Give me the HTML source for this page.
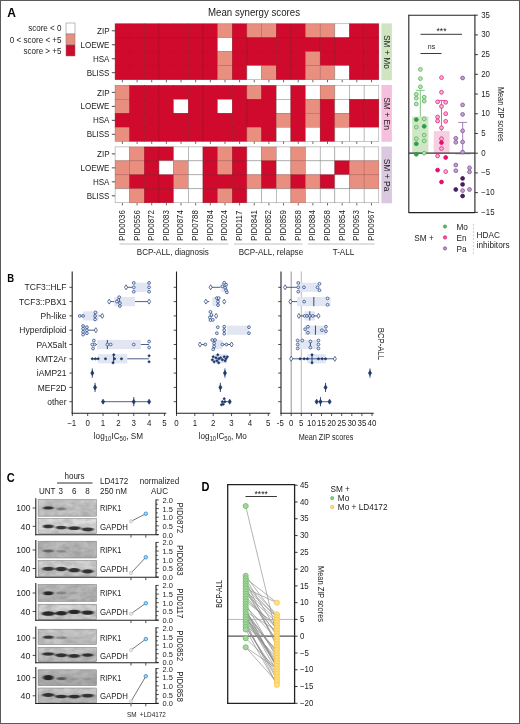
<!DOCTYPE html>
<html><head><meta charset="utf-8"><title>Figure</title>
<style>
html,body{margin:0;padding:0;background:#fff;}
body{width:520px;height:724px;overflow:hidden;font-family:"Liberation Sans",sans-serif;}
svg{display:block;will-change:transform;}
svg text{font-family:"Liberation Sans",sans-serif;}
</style></head><body>
<svg width="520" height="724" viewBox="0 0 520 724">
<defs><filter id="blur" x="-20%" y="-50%" width="140%" height="200%"><feGaussianBlur stdDeviation="1.0 0.7"/></filter><filter id="noise" x="0" y="0" width="100%" height="100%"><feTurbulence type="fractalNoise" baseFrequency="0.11 0.2" numOctaves="3" seed="4"/><feColorMatrix type="matrix" values="0 0 0 0 0.1  0 0 0 0 0.1  0 0 0 0 0.1  1.1 0 0 0 -0.32"/></filter></defs>
<rect x="0.00" y="0.00" width="520.00" height="724.00" fill="#fff" stroke="none" stroke-width="1" />
<text x="0.00" y="0.00" dy="0.355em" font-size="12" text-anchor="start" fill="#000" font-weight="bold" transform="translate(7.20,12.50) scale(1.0,1)" >A</text>
<text x="0.00" y="0.00" dy="0.355em" font-size="10.1" text-anchor="middle" fill="#1c1c1c" font-weight="normal" transform="translate(254.00,12.40) scale(0.96,1)" >Mean synergy scores</text>
<rect x="66.00" y="23.00" width="9.00" height="11.00" fill="#ffffff" stroke="#777" stroke-width="0.5" />
<text x="0.00" y="0.00" dy="0.355em" font-size="8.76" text-anchor="end" fill="#1c1c1c" font-weight="normal" transform="translate(61.50,28.30) scale(0.92,1)" >score &lt; 0</text>
<rect x="66.00" y="34.00" width="9.00" height="11.00" fill="#e98f80" stroke="#777" stroke-width="0.5" />
<text x="0.00" y="0.00" dy="0.355em" font-size="8.76" text-anchor="end" fill="#1c1c1c" font-weight="normal" transform="translate(61.50,39.80) scale(0.92,1)" >0 &lt; score &lt; +5</text>
<rect x="66.00" y="45.00" width="9.00" height="11.00" fill="#cf0a2c" stroke="#777" stroke-width="0.5" />
<text x="0.00" y="0.00" dy="0.355em" font-size="8.76" text-anchor="end" fill="#1c1c1c" font-weight="normal" transform="translate(61.50,51.30) scale(0.92,1)" >score &gt; +5</text>
<rect x="115.10" y="23.80" width="14.65" height="13.97" fill="#cf0a2c" stroke="#9c0e22" stroke-width="0.5" />
<rect x="129.75" y="23.80" width="14.65" height="13.97" fill="#cf0a2c" stroke="#9c0e22" stroke-width="0.5" />
<rect x="144.40" y="23.80" width="14.65" height="13.97" fill="#cf0a2c" stroke="#9c0e22" stroke-width="0.5" />
<rect x="159.05" y="23.80" width="14.65" height="13.97" fill="#cf0a2c" stroke="#9c0e22" stroke-width="0.5" />
<rect x="173.70" y="23.80" width="14.65" height="13.97" fill="#cf0a2c" stroke="#9c0e22" stroke-width="0.5" />
<rect x="188.35" y="23.80" width="14.65" height="13.97" fill="#cf0a2c" stroke="#9c0e22" stroke-width="0.5" />
<rect x="203.00" y="23.80" width="14.65" height="13.97" fill="#cf0a2c" stroke="#9c0e22" stroke-width="0.5" />
<rect x="217.65" y="23.80" width="14.65" height="13.97" fill="#e98f80" stroke="#b06058" stroke-width="0.5" />
<rect x="232.30" y="23.80" width="14.65" height="13.97" fill="#cf0a2c" stroke="#9c0e22" stroke-width="0.5" />
<rect x="246.95" y="23.80" width="14.65" height="13.97" fill="#e98f80" stroke="#b06058" stroke-width="0.5" />
<rect x="261.60" y="23.80" width="14.65" height="13.97" fill="#e98f80" stroke="#b06058" stroke-width="0.5" />
<rect x="276.25" y="23.80" width="14.65" height="13.97" fill="#cf0a2c" stroke="#9c0e22" stroke-width="0.5" />
<rect x="290.90" y="23.80" width="14.65" height="13.97" fill="#cf0a2c" stroke="#9c0e22" stroke-width="0.5" />
<rect x="305.55" y="23.80" width="14.65" height="13.97" fill="#e98f80" stroke="#b06058" stroke-width="0.5" />
<rect x="320.20" y="23.80" width="14.65" height="13.97" fill="#e98f80" stroke="#b06058" stroke-width="0.5" />
<rect x="334.85" y="23.80" width="14.65" height="13.97" fill="#ffffff" stroke="#8c8c8c" stroke-width="0.5" />
<rect x="349.50" y="23.80" width="14.65" height="13.97" fill="#cf0a2c" stroke="#9c0e22" stroke-width="0.5" />
<rect x="364.15" y="23.80" width="14.65" height="13.97" fill="#cf0a2c" stroke="#9c0e22" stroke-width="0.5" />
<text x="0.00" y="0.00" dy="0.355em" font-size="8.76" text-anchor="end" fill="#1c1c1c" font-weight="normal" transform="translate(109.50,30.79) scale(0.92,1)" >ZIP</text>
<line x1="111.80" y1="30.79" x2="115.10" y2="30.79" stroke="#222" stroke-width="0.8" />
<rect x="115.10" y="37.77" width="14.65" height="13.97" fill="#cf0a2c" stroke="#9c0e22" stroke-width="0.5" />
<rect x="129.75" y="37.77" width="14.65" height="13.97" fill="#cf0a2c" stroke="#9c0e22" stroke-width="0.5" />
<rect x="144.40" y="37.77" width="14.65" height="13.97" fill="#cf0a2c" stroke="#9c0e22" stroke-width="0.5" />
<rect x="159.05" y="37.77" width="14.65" height="13.97" fill="#cf0a2c" stroke="#9c0e22" stroke-width="0.5" />
<rect x="173.70" y="37.77" width="14.65" height="13.97" fill="#cf0a2c" stroke="#9c0e22" stroke-width="0.5" />
<rect x="188.35" y="37.77" width="14.65" height="13.97" fill="#cf0a2c" stroke="#9c0e22" stroke-width="0.5" />
<rect x="203.00" y="37.77" width="14.65" height="13.97" fill="#cf0a2c" stroke="#9c0e22" stroke-width="0.5" />
<rect x="217.65" y="37.77" width="14.65" height="13.97" fill="#ffffff" stroke="#8c8c8c" stroke-width="0.5" />
<rect x="232.30" y="37.77" width="14.65" height="13.97" fill="#cf0a2c" stroke="#9c0e22" stroke-width="0.5" />
<rect x="246.95" y="37.77" width="14.65" height="13.97" fill="#cf0a2c" stroke="#9c0e22" stroke-width="0.5" />
<rect x="261.60" y="37.77" width="14.65" height="13.97" fill="#cf0a2c" stroke="#9c0e22" stroke-width="0.5" />
<rect x="276.25" y="37.77" width="14.65" height="13.97" fill="#cf0a2c" stroke="#9c0e22" stroke-width="0.5" />
<rect x="290.90" y="37.77" width="14.65" height="13.97" fill="#cf0a2c" stroke="#9c0e22" stroke-width="0.5" />
<rect x="305.55" y="37.77" width="14.65" height="13.97" fill="#cf0a2c" stroke="#9c0e22" stroke-width="0.5" />
<rect x="320.20" y="37.77" width="14.65" height="13.97" fill="#cf0a2c" stroke="#9c0e22" stroke-width="0.5" />
<rect x="334.85" y="37.77" width="14.65" height="13.97" fill="#cf0a2c" stroke="#9c0e22" stroke-width="0.5" />
<rect x="349.50" y="37.77" width="14.65" height="13.97" fill="#cf0a2c" stroke="#9c0e22" stroke-width="0.5" />
<rect x="364.15" y="37.77" width="14.65" height="13.97" fill="#cf0a2c" stroke="#9c0e22" stroke-width="0.5" />
<text x="0.00" y="0.00" dy="0.355em" font-size="8.76" text-anchor="end" fill="#1c1c1c" font-weight="normal" transform="translate(109.50,44.76) scale(0.92,1)" >LOEWE</text>
<line x1="111.80" y1="44.76" x2="115.10" y2="44.76" stroke="#222" stroke-width="0.8" />
<rect x="115.10" y="51.74" width="14.65" height="13.97" fill="#cf0a2c" stroke="#9c0e22" stroke-width="0.5" />
<rect x="129.75" y="51.74" width="14.65" height="13.97" fill="#cf0a2c" stroke="#9c0e22" stroke-width="0.5" />
<rect x="144.40" y="51.74" width="14.65" height="13.97" fill="#cf0a2c" stroke="#9c0e22" stroke-width="0.5" />
<rect x="159.05" y="51.74" width="14.65" height="13.97" fill="#cf0a2c" stroke="#9c0e22" stroke-width="0.5" />
<rect x="173.70" y="51.74" width="14.65" height="13.97" fill="#cf0a2c" stroke="#9c0e22" stroke-width="0.5" />
<rect x="188.35" y="51.74" width="14.65" height="13.97" fill="#cf0a2c" stroke="#9c0e22" stroke-width="0.5" />
<rect x="203.00" y="51.74" width="14.65" height="13.97" fill="#cf0a2c" stroke="#9c0e22" stroke-width="0.5" />
<rect x="217.65" y="51.74" width="14.65" height="13.97" fill="#e98f80" stroke="#b06058" stroke-width="0.5" />
<rect x="232.30" y="51.74" width="14.65" height="13.97" fill="#cf0a2c" stroke="#9c0e22" stroke-width="0.5" />
<rect x="246.95" y="51.74" width="14.65" height="13.97" fill="#cf0a2c" stroke="#9c0e22" stroke-width="0.5" />
<rect x="261.60" y="51.74" width="14.65" height="13.97" fill="#cf0a2c" stroke="#9c0e22" stroke-width="0.5" />
<rect x="276.25" y="51.74" width="14.65" height="13.97" fill="#cf0a2c" stroke="#9c0e22" stroke-width="0.5" />
<rect x="290.90" y="51.74" width="14.65" height="13.97" fill="#cf0a2c" stroke="#9c0e22" stroke-width="0.5" />
<rect x="305.55" y="51.74" width="14.65" height="13.97" fill="#e98f80" stroke="#b06058" stroke-width="0.5" />
<rect x="320.20" y="51.74" width="14.65" height="13.97" fill="#cf0a2c" stroke="#9c0e22" stroke-width="0.5" />
<rect x="334.85" y="51.74" width="14.65" height="13.97" fill="#cf0a2c" stroke="#9c0e22" stroke-width="0.5" />
<rect x="349.50" y="51.74" width="14.65" height="13.97" fill="#cf0a2c" stroke="#9c0e22" stroke-width="0.5" />
<rect x="364.15" y="51.74" width="14.65" height="13.97" fill="#cf0a2c" stroke="#9c0e22" stroke-width="0.5" />
<text x="0.00" y="0.00" dy="0.355em" font-size="8.76" text-anchor="end" fill="#1c1c1c" font-weight="normal" transform="translate(109.50,58.73) scale(0.92,1)" >HSA</text>
<line x1="111.80" y1="58.73" x2="115.10" y2="58.73" stroke="#222" stroke-width="0.8" />
<rect x="115.10" y="65.71" width="14.65" height="13.97" fill="#cf0a2c" stroke="#9c0e22" stroke-width="0.5" />
<rect x="129.75" y="65.71" width="14.65" height="13.97" fill="#cf0a2c" stroke="#9c0e22" stroke-width="0.5" />
<rect x="144.40" y="65.71" width="14.65" height="13.97" fill="#cf0a2c" stroke="#9c0e22" stroke-width="0.5" />
<rect x="159.05" y="65.71" width="14.65" height="13.97" fill="#cf0a2c" stroke="#9c0e22" stroke-width="0.5" />
<rect x="173.70" y="65.71" width="14.65" height="13.97" fill="#cf0a2c" stroke="#9c0e22" stroke-width="0.5" />
<rect x="188.35" y="65.71" width="14.65" height="13.97" fill="#cf0a2c" stroke="#9c0e22" stroke-width="0.5" />
<rect x="203.00" y="65.71" width="14.65" height="13.97" fill="#cf0a2c" stroke="#9c0e22" stroke-width="0.5" />
<rect x="217.65" y="65.71" width="14.65" height="13.97" fill="#e98f80" stroke="#b06058" stroke-width="0.5" />
<rect x="232.30" y="65.71" width="14.65" height="13.97" fill="#cf0a2c" stroke="#9c0e22" stroke-width="0.5" />
<rect x="246.95" y="65.71" width="14.65" height="13.97" fill="#ffffff" stroke="#8c8c8c" stroke-width="0.5" />
<rect x="261.60" y="65.71" width="14.65" height="13.97" fill="#e98f80" stroke="#b06058" stroke-width="0.5" />
<rect x="276.25" y="65.71" width="14.65" height="13.97" fill="#cf0a2c" stroke="#9c0e22" stroke-width="0.5" />
<rect x="290.90" y="65.71" width="14.65" height="13.97" fill="#cf0a2c" stroke="#9c0e22" stroke-width="0.5" />
<rect x="305.55" y="65.71" width="14.65" height="13.97" fill="#e98f80" stroke="#b06058" stroke-width="0.5" />
<rect x="320.20" y="65.71" width="14.65" height="13.97" fill="#e98f80" stroke="#b06058" stroke-width="0.5" />
<rect x="334.85" y="65.71" width="14.65" height="13.97" fill="#ffffff" stroke="#8c8c8c" stroke-width="0.5" />
<rect x="349.50" y="65.71" width="14.65" height="13.97" fill="#cf0a2c" stroke="#9c0e22" stroke-width="0.5" />
<rect x="364.15" y="65.71" width="14.65" height="13.97" fill="#cf0a2c" stroke="#9c0e22" stroke-width="0.5" />
<text x="0.00" y="0.00" dy="0.355em" font-size="8.76" text-anchor="end" fill="#1c1c1c" font-weight="normal" transform="translate(109.50,72.70) scale(0.92,1)" >BLISS</text>
<line x1="111.80" y1="72.70" x2="115.10" y2="72.70" stroke="#222" stroke-width="0.8" />
<line x1="122.42" y1="79.98" x2="122.42" y2="82.28" stroke="#222" stroke-width="0.7" />
<line x1="137.07" y1="79.98" x2="137.07" y2="82.28" stroke="#222" stroke-width="0.7" />
<line x1="151.72" y1="79.98" x2="151.72" y2="82.28" stroke="#222" stroke-width="0.7" />
<line x1="166.38" y1="79.98" x2="166.38" y2="82.28" stroke="#222" stroke-width="0.7" />
<line x1="181.02" y1="79.98" x2="181.02" y2="82.28" stroke="#222" stroke-width="0.7" />
<line x1="195.68" y1="79.98" x2="195.68" y2="82.28" stroke="#222" stroke-width="0.7" />
<line x1="210.32" y1="79.98" x2="210.32" y2="82.28" stroke="#222" stroke-width="0.7" />
<line x1="224.97" y1="79.98" x2="224.97" y2="82.28" stroke="#222" stroke-width="0.7" />
<line x1="239.62" y1="79.98" x2="239.62" y2="82.28" stroke="#222" stroke-width="0.7" />
<line x1="254.28" y1="79.98" x2="254.28" y2="82.28" stroke="#222" stroke-width="0.7" />
<line x1="268.93" y1="79.98" x2="268.93" y2="82.28" stroke="#222" stroke-width="0.7" />
<line x1="283.57" y1="79.98" x2="283.57" y2="82.28" stroke="#222" stroke-width="0.7" />
<line x1="298.23" y1="79.98" x2="298.23" y2="82.28" stroke="#222" stroke-width="0.7" />
<line x1="312.88" y1="79.98" x2="312.88" y2="82.28" stroke="#222" stroke-width="0.7" />
<line x1="327.52" y1="79.98" x2="327.52" y2="82.28" stroke="#222" stroke-width="0.7" />
<line x1="342.18" y1="79.98" x2="342.18" y2="82.28" stroke="#222" stroke-width="0.7" />
<line x1="356.82" y1="79.98" x2="356.82" y2="82.28" stroke="#222" stroke-width="0.7" />
<line x1="371.48" y1="79.98" x2="371.48" y2="82.28" stroke="#222" stroke-width="0.7" />
<rect x="381.40" y="23.40" width="10.50" height="56.78" fill="#cfe5bf" stroke="none" stroke-width="1" />
<text x="0.00" y="0.00" dy="0.355em" font-size="9.4" text-anchor="middle" fill="#1c1c1c" font-weight="normal" transform="translate(386.90,51.94) rotate(90) scale(0.9,1)" >SM + Mo</text>
<rect x="115.10" y="85.40" width="14.65" height="13.97" fill="#e98f80" stroke="#b06058" stroke-width="0.5" />
<rect x="129.75" y="85.40" width="14.65" height="13.97" fill="#cf0a2c" stroke="#9c0e22" stroke-width="0.5" />
<rect x="144.40" y="85.40" width="14.65" height="13.97" fill="#cf0a2c" stroke="#9c0e22" stroke-width="0.5" />
<rect x="159.05" y="85.40" width="14.65" height="13.97" fill="#cf0a2c" stroke="#9c0e22" stroke-width="0.5" />
<rect x="173.70" y="85.40" width="14.65" height="13.97" fill="#cf0a2c" stroke="#9c0e22" stroke-width="0.5" />
<rect x="188.35" y="85.40" width="14.65" height="13.97" fill="#cf0a2c" stroke="#9c0e22" stroke-width="0.5" />
<rect x="203.00" y="85.40" width="14.65" height="13.97" fill="#cf0a2c" stroke="#9c0e22" stroke-width="0.5" />
<rect x="217.65" y="85.40" width="14.65" height="13.97" fill="#cf0a2c" stroke="#9c0e22" stroke-width="0.5" />
<rect x="232.30" y="85.40" width="14.65" height="13.97" fill="#cf0a2c" stroke="#9c0e22" stroke-width="0.5" />
<rect x="246.95" y="85.40" width="14.65" height="13.97" fill="#e98f80" stroke="#b06058" stroke-width="0.5" />
<rect x="261.60" y="85.40" width="14.65" height="13.97" fill="#cf0a2c" stroke="#9c0e22" stroke-width="0.5" />
<rect x="276.25" y="85.40" width="14.65" height="13.97" fill="#ffffff" stroke="#8c8c8c" stroke-width="0.5" />
<rect x="290.90" y="85.40" width="14.65" height="13.97" fill="#cf0a2c" stroke="#9c0e22" stroke-width="0.5" />
<rect x="305.55" y="85.40" width="14.65" height="13.97" fill="#ffffff" stroke="#8c8c8c" stroke-width="0.5" />
<rect x="320.20" y="85.40" width="14.65" height="13.97" fill="#e98f80" stroke="#b06058" stroke-width="0.5" />
<rect x="334.85" y="85.40" width="14.65" height="13.97" fill="#ffffff" stroke="#8c8c8c" stroke-width="0.5" />
<rect x="349.50" y="85.40" width="14.65" height="13.97" fill="#ffffff" stroke="#8c8c8c" stroke-width="0.5" />
<rect x="364.15" y="85.40" width="14.65" height="13.97" fill="#ffffff" stroke="#8c8c8c" stroke-width="0.5" />
<text x="0.00" y="0.00" dy="0.355em" font-size="8.76" text-anchor="end" fill="#1c1c1c" font-weight="normal" transform="translate(109.50,92.39) scale(0.92,1)" >ZIP</text>
<line x1="111.80" y1="92.39" x2="115.10" y2="92.39" stroke="#222" stroke-width="0.8" />
<rect x="115.10" y="99.37" width="14.65" height="13.97" fill="#e98f80" stroke="#b06058" stroke-width="0.5" />
<rect x="129.75" y="99.37" width="14.65" height="13.97" fill="#cf0a2c" stroke="#9c0e22" stroke-width="0.5" />
<rect x="144.40" y="99.37" width="14.65" height="13.97" fill="#cf0a2c" stroke="#9c0e22" stroke-width="0.5" />
<rect x="159.05" y="99.37" width="14.65" height="13.97" fill="#cf0a2c" stroke="#9c0e22" stroke-width="0.5" />
<rect x="173.70" y="99.37" width="14.65" height="13.97" fill="#ffffff" stroke="#8c8c8c" stroke-width="0.5" />
<rect x="188.35" y="99.37" width="14.65" height="13.97" fill="#cf0a2c" stroke="#9c0e22" stroke-width="0.5" />
<rect x="203.00" y="99.37" width="14.65" height="13.97" fill="#cf0a2c" stroke="#9c0e22" stroke-width="0.5" />
<rect x="217.65" y="99.37" width="14.65" height="13.97" fill="#ffffff" stroke="#8c8c8c" stroke-width="0.5" />
<rect x="232.30" y="99.37" width="14.65" height="13.97" fill="#cf0a2c" stroke="#9c0e22" stroke-width="0.5" />
<rect x="246.95" y="99.37" width="14.65" height="13.97" fill="#cf0a2c" stroke="#9c0e22" stroke-width="0.5" />
<rect x="261.60" y="99.37" width="14.65" height="13.97" fill="#cf0a2c" stroke="#9c0e22" stroke-width="0.5" />
<rect x="276.25" y="99.37" width="14.65" height="13.97" fill="#ffffff" stroke="#8c8c8c" stroke-width="0.5" />
<rect x="290.90" y="99.37" width="14.65" height="13.97" fill="#cf0a2c" stroke="#9c0e22" stroke-width="0.5" />
<rect x="305.55" y="99.37" width="14.65" height="13.97" fill="#e98f80" stroke="#b06058" stroke-width="0.5" />
<rect x="320.20" y="99.37" width="14.65" height="13.97" fill="#cf0a2c" stroke="#9c0e22" stroke-width="0.5" />
<rect x="334.85" y="99.37" width="14.65" height="13.97" fill="#ffffff" stroke="#8c8c8c" stroke-width="0.5" />
<rect x="349.50" y="99.37" width="14.65" height="13.97" fill="#cf0a2c" stroke="#9c0e22" stroke-width="0.5" />
<rect x="364.15" y="99.37" width="14.65" height="13.97" fill="#cf0a2c" stroke="#9c0e22" stroke-width="0.5" />
<text x="0.00" y="0.00" dy="0.355em" font-size="8.76" text-anchor="end" fill="#1c1c1c" font-weight="normal" transform="translate(109.50,106.36) scale(0.92,1)" >LOEWE</text>
<line x1="111.80" y1="106.36" x2="115.10" y2="106.36" stroke="#222" stroke-width="0.8" />
<rect x="115.10" y="113.34" width="14.65" height="13.97" fill="#cf0a2c" stroke="#9c0e22" stroke-width="0.5" />
<rect x="129.75" y="113.34" width="14.65" height="13.97" fill="#cf0a2c" stroke="#9c0e22" stroke-width="0.5" />
<rect x="144.40" y="113.34" width="14.65" height="13.97" fill="#cf0a2c" stroke="#9c0e22" stroke-width="0.5" />
<rect x="159.05" y="113.34" width="14.65" height="13.97" fill="#cf0a2c" stroke="#9c0e22" stroke-width="0.5" />
<rect x="173.70" y="113.34" width="14.65" height="13.97" fill="#cf0a2c" stroke="#9c0e22" stroke-width="0.5" />
<rect x="188.35" y="113.34" width="14.65" height="13.97" fill="#cf0a2c" stroke="#9c0e22" stroke-width="0.5" />
<rect x="203.00" y="113.34" width="14.65" height="13.97" fill="#cf0a2c" stroke="#9c0e22" stroke-width="0.5" />
<rect x="217.65" y="113.34" width="14.65" height="13.97" fill="#cf0a2c" stroke="#9c0e22" stroke-width="0.5" />
<rect x="232.30" y="113.34" width="14.65" height="13.97" fill="#cf0a2c" stroke="#9c0e22" stroke-width="0.5" />
<rect x="246.95" y="113.34" width="14.65" height="13.97" fill="#cf0a2c" stroke="#9c0e22" stroke-width="0.5" />
<rect x="261.60" y="113.34" width="14.65" height="13.97" fill="#cf0a2c" stroke="#9c0e22" stroke-width="0.5" />
<rect x="276.25" y="113.34" width="14.65" height="13.97" fill="#e98f80" stroke="#b06058" stroke-width="0.5" />
<rect x="290.90" y="113.34" width="14.65" height="13.97" fill="#cf0a2c" stroke="#9c0e22" stroke-width="0.5" />
<rect x="305.55" y="113.34" width="14.65" height="13.97" fill="#e98f80" stroke="#b06058" stroke-width="0.5" />
<rect x="320.20" y="113.34" width="14.65" height="13.97" fill="#cf0a2c" stroke="#9c0e22" stroke-width="0.5" />
<rect x="334.85" y="113.34" width="14.65" height="13.97" fill="#e98f80" stroke="#b06058" stroke-width="0.5" />
<rect x="349.50" y="113.34" width="14.65" height="13.97" fill="#cf0a2c" stroke="#9c0e22" stroke-width="0.5" />
<rect x="364.15" y="113.34" width="14.65" height="13.97" fill="#cf0a2c" stroke="#9c0e22" stroke-width="0.5" />
<text x="0.00" y="0.00" dy="0.355em" font-size="8.76" text-anchor="end" fill="#1c1c1c" font-weight="normal" transform="translate(109.50,120.33) scale(0.92,1)" >HSA</text>
<line x1="111.80" y1="120.33" x2="115.10" y2="120.33" stroke="#222" stroke-width="0.8" />
<rect x="115.10" y="127.31" width="14.65" height="13.97" fill="#e98f80" stroke="#b06058" stroke-width="0.5" />
<rect x="129.75" y="127.31" width="14.65" height="13.97" fill="#cf0a2c" stroke="#9c0e22" stroke-width="0.5" />
<rect x="144.40" y="127.31" width="14.65" height="13.97" fill="#cf0a2c" stroke="#9c0e22" stroke-width="0.5" />
<rect x="159.05" y="127.31" width="14.65" height="13.97" fill="#cf0a2c" stroke="#9c0e22" stroke-width="0.5" />
<rect x="173.70" y="127.31" width="14.65" height="13.97" fill="#cf0a2c" stroke="#9c0e22" stroke-width="0.5" />
<rect x="188.35" y="127.31" width="14.65" height="13.97" fill="#cf0a2c" stroke="#9c0e22" stroke-width="0.5" />
<rect x="203.00" y="127.31" width="14.65" height="13.97" fill="#cf0a2c" stroke="#9c0e22" stroke-width="0.5" />
<rect x="217.65" y="127.31" width="14.65" height="13.97" fill="#cf0a2c" stroke="#9c0e22" stroke-width="0.5" />
<rect x="232.30" y="127.31" width="14.65" height="13.97" fill="#cf0a2c" stroke="#9c0e22" stroke-width="0.5" />
<rect x="246.95" y="127.31" width="14.65" height="13.97" fill="#e98f80" stroke="#b06058" stroke-width="0.5" />
<rect x="261.60" y="127.31" width="14.65" height="13.97" fill="#cf0a2c" stroke="#9c0e22" stroke-width="0.5" />
<rect x="276.25" y="127.31" width="14.65" height="13.97" fill="#ffffff" stroke="#8c8c8c" stroke-width="0.5" />
<rect x="290.90" y="127.31" width="14.65" height="13.97" fill="#cf0a2c" stroke="#9c0e22" stroke-width="0.5" />
<rect x="305.55" y="127.31" width="14.65" height="13.97" fill="#ffffff" stroke="#8c8c8c" stroke-width="0.5" />
<rect x="320.20" y="127.31" width="14.65" height="13.97" fill="#cf0a2c" stroke="#9c0e22" stroke-width="0.5" />
<rect x="334.85" y="127.31" width="14.65" height="13.97" fill="#ffffff" stroke="#8c8c8c" stroke-width="0.5" />
<rect x="349.50" y="127.31" width="14.65" height="13.97" fill="#ffffff" stroke="#8c8c8c" stroke-width="0.5" />
<rect x="364.15" y="127.31" width="14.65" height="13.97" fill="#ffffff" stroke="#8c8c8c" stroke-width="0.5" />
<text x="0.00" y="0.00" dy="0.355em" font-size="8.76" text-anchor="end" fill="#1c1c1c" font-weight="normal" transform="translate(109.50,134.30) scale(0.92,1)" >BLISS</text>
<line x1="111.80" y1="134.30" x2="115.10" y2="134.30" stroke="#222" stroke-width="0.8" />
<line x1="122.42" y1="141.58" x2="122.42" y2="143.88" stroke="#222" stroke-width="0.7" />
<line x1="137.07" y1="141.58" x2="137.07" y2="143.88" stroke="#222" stroke-width="0.7" />
<line x1="151.72" y1="141.58" x2="151.72" y2="143.88" stroke="#222" stroke-width="0.7" />
<line x1="166.38" y1="141.58" x2="166.38" y2="143.88" stroke="#222" stroke-width="0.7" />
<line x1="181.02" y1="141.58" x2="181.02" y2="143.88" stroke="#222" stroke-width="0.7" />
<line x1="195.68" y1="141.58" x2="195.68" y2="143.88" stroke="#222" stroke-width="0.7" />
<line x1="210.32" y1="141.58" x2="210.32" y2="143.88" stroke="#222" stroke-width="0.7" />
<line x1="224.97" y1="141.58" x2="224.97" y2="143.88" stroke="#222" stroke-width="0.7" />
<line x1="239.62" y1="141.58" x2="239.62" y2="143.88" stroke="#222" stroke-width="0.7" />
<line x1="254.28" y1="141.58" x2="254.28" y2="143.88" stroke="#222" stroke-width="0.7" />
<line x1="268.93" y1="141.58" x2="268.93" y2="143.88" stroke="#222" stroke-width="0.7" />
<line x1="283.57" y1="141.58" x2="283.57" y2="143.88" stroke="#222" stroke-width="0.7" />
<line x1="298.23" y1="141.58" x2="298.23" y2="143.88" stroke="#222" stroke-width="0.7" />
<line x1="312.88" y1="141.58" x2="312.88" y2="143.88" stroke="#222" stroke-width="0.7" />
<line x1="327.52" y1="141.58" x2="327.52" y2="143.88" stroke="#222" stroke-width="0.7" />
<line x1="342.18" y1="141.58" x2="342.18" y2="143.88" stroke="#222" stroke-width="0.7" />
<line x1="356.82" y1="141.58" x2="356.82" y2="143.88" stroke="#222" stroke-width="0.7" />
<line x1="371.48" y1="141.58" x2="371.48" y2="143.88" stroke="#222" stroke-width="0.7" />
<rect x="381.40" y="85.00" width="10.50" height="56.78" fill="#f6bfdd" stroke="none" stroke-width="1" />
<text x="0.00" y="0.00" dy="0.355em" font-size="9.4" text-anchor="middle" fill="#1c1c1c" font-weight="normal" transform="translate(386.90,113.54) rotate(90) scale(0.9,1)" >SM + En</text>
<rect x="115.10" y="146.90" width="14.65" height="13.97" fill="#ffffff" stroke="#8c8c8c" stroke-width="0.5" />
<rect x="129.75" y="146.90" width="14.65" height="13.97" fill="#e98f80" stroke="#b06058" stroke-width="0.5" />
<rect x="144.40" y="146.90" width="14.65" height="13.97" fill="#cf0a2c" stroke="#9c0e22" stroke-width="0.5" />
<rect x="159.05" y="146.90" width="14.65" height="13.97" fill="#cf0a2c" stroke="#9c0e22" stroke-width="0.5" />
<rect x="173.70" y="146.90" width="14.65" height="13.97" fill="#ffffff" stroke="#8c8c8c" stroke-width="0.5" />
<rect x="188.35" y="146.90" width="14.65" height="13.97" fill="#ffffff" stroke="#8c8c8c" stroke-width="0.5" />
<rect x="203.00" y="146.90" width="14.65" height="13.97" fill="#cf0a2c" stroke="#9c0e22" stroke-width="0.5" />
<rect x="217.65" y="146.90" width="14.65" height="13.97" fill="#e98f80" stroke="#b06058" stroke-width="0.5" />
<rect x="232.30" y="146.90" width="14.65" height="13.97" fill="#cf0a2c" stroke="#9c0e22" stroke-width="0.5" />
<rect x="246.95" y="146.90" width="14.65" height="13.97" fill="#ffffff" stroke="#8c8c8c" stroke-width="0.5" />
<rect x="261.60" y="146.90" width="14.65" height="13.97" fill="#e98f80" stroke="#b06058" stroke-width="0.5" />
<rect x="276.25" y="146.90" width="14.65" height="13.97" fill="#ffffff" stroke="#8c8c8c" stroke-width="0.5" />
<rect x="290.90" y="146.90" width="14.65" height="13.97" fill="#e98f80" stroke="#b06058" stroke-width="0.5" />
<rect x="305.55" y="146.90" width="14.65" height="13.97" fill="#ffffff" stroke="#8c8c8c" stroke-width="0.5" />
<rect x="320.20" y="146.90" width="14.65" height="13.97" fill="#ffffff" stroke="#8c8c8c" stroke-width="0.5" />
<rect x="334.85" y="146.90" width="14.65" height="13.97" fill="#ffffff" stroke="#8c8c8c" stroke-width="0.5" />
<rect x="349.50" y="146.90" width="14.65" height="13.97" fill="#ffffff" stroke="#8c8c8c" stroke-width="0.5" />
<rect x="364.15" y="146.90" width="14.65" height="13.97" fill="#ffffff" stroke="#8c8c8c" stroke-width="0.5" />
<text x="0.00" y="0.00" dy="0.355em" font-size="8.76" text-anchor="end" fill="#1c1c1c" font-weight="normal" transform="translate(109.50,153.89) scale(0.92,1)" >ZIP</text>
<line x1="111.80" y1="153.89" x2="115.10" y2="153.89" stroke="#222" stroke-width="0.8" />
<rect x="115.10" y="160.87" width="14.65" height="13.97" fill="#e98f80" stroke="#b06058" stroke-width="0.5" />
<rect x="129.75" y="160.87" width="14.65" height="13.97" fill="#e98f80" stroke="#b06058" stroke-width="0.5" />
<rect x="144.40" y="160.87" width="14.65" height="13.97" fill="#cf0a2c" stroke="#9c0e22" stroke-width="0.5" />
<rect x="159.05" y="160.87" width="14.65" height="13.97" fill="#ffffff" stroke="#8c8c8c" stroke-width="0.5" />
<rect x="173.70" y="160.87" width="14.65" height="13.97" fill="#e98f80" stroke="#b06058" stroke-width="0.5" />
<rect x="188.35" y="160.87" width="14.65" height="13.97" fill="#ffffff" stroke="#8c8c8c" stroke-width="0.5" />
<rect x="203.00" y="160.87" width="14.65" height="13.97" fill="#cf0a2c" stroke="#9c0e22" stroke-width="0.5" />
<rect x="217.65" y="160.87" width="14.65" height="13.97" fill="#e98f80" stroke="#b06058" stroke-width="0.5" />
<rect x="232.30" y="160.87" width="14.65" height="13.97" fill="#cf0a2c" stroke="#9c0e22" stroke-width="0.5" />
<rect x="246.95" y="160.87" width="14.65" height="13.97" fill="#ffffff" stroke="#8c8c8c" stroke-width="0.5" />
<rect x="261.60" y="160.87" width="14.65" height="13.97" fill="#cf0a2c" stroke="#9c0e22" stroke-width="0.5" />
<rect x="276.25" y="160.87" width="14.65" height="13.97" fill="#ffffff" stroke="#8c8c8c" stroke-width="0.5" />
<rect x="290.90" y="160.87" width="14.65" height="13.97" fill="#e98f80" stroke="#b06058" stroke-width="0.5" />
<rect x="305.55" y="160.87" width="14.65" height="13.97" fill="#ffffff" stroke="#8c8c8c" stroke-width="0.5" />
<rect x="320.20" y="160.87" width="14.65" height="13.97" fill="#ffffff" stroke="#8c8c8c" stroke-width="0.5" />
<rect x="334.85" y="160.87" width="14.65" height="13.97" fill="#cf0a2c" stroke="#9c0e22" stroke-width="0.5" />
<rect x="349.50" y="160.87" width="14.65" height="13.97" fill="#e98f80" stroke="#b06058" stroke-width="0.5" />
<rect x="364.15" y="160.87" width="14.65" height="13.97" fill="#e98f80" stroke="#b06058" stroke-width="0.5" />
<text x="0.00" y="0.00" dy="0.355em" font-size="8.76" text-anchor="end" fill="#1c1c1c" font-weight="normal" transform="translate(109.50,167.86) scale(0.92,1)" >LOEWE</text>
<line x1="111.80" y1="167.86" x2="115.10" y2="167.86" stroke="#222" stroke-width="0.8" />
<rect x="115.10" y="174.84" width="14.65" height="13.97" fill="#e98f80" stroke="#b06058" stroke-width="0.5" />
<rect x="129.75" y="174.84" width="14.65" height="13.97" fill="#cf0a2c" stroke="#9c0e22" stroke-width="0.5" />
<rect x="144.40" y="174.84" width="14.65" height="13.97" fill="#cf0a2c" stroke="#9c0e22" stroke-width="0.5" />
<rect x="159.05" y="174.84" width="14.65" height="13.97" fill="#cf0a2c" stroke="#9c0e22" stroke-width="0.5" />
<rect x="173.70" y="174.84" width="14.65" height="13.97" fill="#e98f80" stroke="#b06058" stroke-width="0.5" />
<rect x="188.35" y="174.84" width="14.65" height="13.97" fill="#ffffff" stroke="#8c8c8c" stroke-width="0.5" />
<rect x="203.00" y="174.84" width="14.65" height="13.97" fill="#cf0a2c" stroke="#9c0e22" stroke-width="0.5" />
<rect x="217.65" y="174.84" width="14.65" height="13.97" fill="#cf0a2c" stroke="#9c0e22" stroke-width="0.5" />
<rect x="232.30" y="174.84" width="14.65" height="13.97" fill="#cf0a2c" stroke="#9c0e22" stroke-width="0.5" />
<rect x="246.95" y="174.84" width="14.65" height="13.97" fill="#e98f80" stroke="#b06058" stroke-width="0.5" />
<rect x="261.60" y="174.84" width="14.65" height="13.97" fill="#cf0a2c" stroke="#9c0e22" stroke-width="0.5" />
<rect x="276.25" y="174.84" width="14.65" height="13.97" fill="#e98f80" stroke="#b06058" stroke-width="0.5" />
<rect x="290.90" y="174.84" width="14.65" height="13.97" fill="#cf0a2c" stroke="#9c0e22" stroke-width="0.5" />
<rect x="305.55" y="174.84" width="14.65" height="13.97" fill="#e98f80" stroke="#b06058" stroke-width="0.5" />
<rect x="320.20" y="174.84" width="14.65" height="13.97" fill="#cf0a2c" stroke="#9c0e22" stroke-width="0.5" />
<rect x="334.85" y="174.84" width="14.65" height="13.97" fill="#ffffff" stroke="#8c8c8c" stroke-width="0.5" />
<rect x="349.50" y="174.84" width="14.65" height="13.97" fill="#e98f80" stroke="#b06058" stroke-width="0.5" />
<rect x="364.15" y="174.84" width="14.65" height="13.97" fill="#e98f80" stroke="#b06058" stroke-width="0.5" />
<text x="0.00" y="0.00" dy="0.355em" font-size="8.76" text-anchor="end" fill="#1c1c1c" font-weight="normal" transform="translate(109.50,181.83) scale(0.92,1)" >HSA</text>
<line x1="111.80" y1="181.83" x2="115.10" y2="181.83" stroke="#222" stroke-width="0.8" />
<rect x="115.10" y="188.81" width="14.65" height="13.97" fill="#ffffff" stroke="#8c8c8c" stroke-width="0.5" />
<rect x="129.75" y="188.81" width="14.65" height="13.97" fill="#e98f80" stroke="#b06058" stroke-width="0.5" />
<rect x="144.40" y="188.81" width="14.65" height="13.97" fill="#cf0a2c" stroke="#9c0e22" stroke-width="0.5" />
<rect x="159.05" y="188.81" width="14.65" height="13.97" fill="#cf0a2c" stroke="#9c0e22" stroke-width="0.5" />
<rect x="173.70" y="188.81" width="14.65" height="13.97" fill="#ffffff" stroke="#8c8c8c" stroke-width="0.5" />
<rect x="188.35" y="188.81" width="14.65" height="13.97" fill="#ffffff" stroke="#8c8c8c" stroke-width="0.5" />
<rect x="203.00" y="188.81" width="14.65" height="13.97" fill="#cf0a2c" stroke="#9c0e22" stroke-width="0.5" />
<rect x="217.65" y="188.81" width="14.65" height="13.97" fill="#e98f80" stroke="#b06058" stroke-width="0.5" />
<rect x="232.30" y="188.81" width="14.65" height="13.97" fill="#cf0a2c" stroke="#9c0e22" stroke-width="0.5" />
<rect x="246.95" y="188.81" width="14.65" height="13.97" fill="#ffffff" stroke="#8c8c8c" stroke-width="0.5" />
<rect x="261.60" y="188.81" width="14.65" height="13.97" fill="#ffffff" stroke="#8c8c8c" stroke-width="0.5" />
<rect x="276.25" y="188.81" width="14.65" height="13.97" fill="#ffffff" stroke="#8c8c8c" stroke-width="0.5" />
<rect x="290.90" y="188.81" width="14.65" height="13.97" fill="#e98f80" stroke="#b06058" stroke-width="0.5" />
<rect x="305.55" y="188.81" width="14.65" height="13.97" fill="#ffffff" stroke="#8c8c8c" stroke-width="0.5" />
<rect x="320.20" y="188.81" width="14.65" height="13.97" fill="#ffffff" stroke="#8c8c8c" stroke-width="0.5" />
<rect x="334.85" y="188.81" width="14.65" height="13.97" fill="#ffffff" stroke="#8c8c8c" stroke-width="0.5" />
<rect x="349.50" y="188.81" width="14.65" height="13.97" fill="#ffffff" stroke="#8c8c8c" stroke-width="0.5" />
<rect x="364.15" y="188.81" width="14.65" height="13.97" fill="#ffffff" stroke="#8c8c8c" stroke-width="0.5" />
<text x="0.00" y="0.00" dy="0.355em" font-size="8.76" text-anchor="end" fill="#1c1c1c" font-weight="normal" transform="translate(109.50,195.80) scale(0.92,1)" >BLISS</text>
<line x1="111.80" y1="195.80" x2="115.10" y2="195.80" stroke="#222" stroke-width="0.8" />
<line x1="122.42" y1="203.08" x2="122.42" y2="205.38" stroke="#222" stroke-width="0.7" />
<line x1="137.07" y1="203.08" x2="137.07" y2="205.38" stroke="#222" stroke-width="0.7" />
<line x1="151.72" y1="203.08" x2="151.72" y2="205.38" stroke="#222" stroke-width="0.7" />
<line x1="166.38" y1="203.08" x2="166.38" y2="205.38" stroke="#222" stroke-width="0.7" />
<line x1="181.02" y1="203.08" x2="181.02" y2="205.38" stroke="#222" stroke-width="0.7" />
<line x1="195.68" y1="203.08" x2="195.68" y2="205.38" stroke="#222" stroke-width="0.7" />
<line x1="210.32" y1="203.08" x2="210.32" y2="205.38" stroke="#222" stroke-width="0.7" />
<line x1="224.97" y1="203.08" x2="224.97" y2="205.38" stroke="#222" stroke-width="0.7" />
<line x1="239.62" y1="203.08" x2="239.62" y2="205.38" stroke="#222" stroke-width="0.7" />
<line x1="254.28" y1="203.08" x2="254.28" y2="205.38" stroke="#222" stroke-width="0.7" />
<line x1="268.93" y1="203.08" x2="268.93" y2="205.38" stroke="#222" stroke-width="0.7" />
<line x1="283.57" y1="203.08" x2="283.57" y2="205.38" stroke="#222" stroke-width="0.7" />
<line x1="298.23" y1="203.08" x2="298.23" y2="205.38" stroke="#222" stroke-width="0.7" />
<line x1="312.88" y1="203.08" x2="312.88" y2="205.38" stroke="#222" stroke-width="0.7" />
<line x1="327.52" y1="203.08" x2="327.52" y2="205.38" stroke="#222" stroke-width="0.7" />
<line x1="342.18" y1="203.08" x2="342.18" y2="205.38" stroke="#222" stroke-width="0.7" />
<line x1="356.82" y1="203.08" x2="356.82" y2="205.38" stroke="#222" stroke-width="0.7" />
<line x1="371.48" y1="203.08" x2="371.48" y2="205.38" stroke="#222" stroke-width="0.7" />
<rect x="381.40" y="146.50" width="10.50" height="56.78" fill="#dac7e0" stroke="none" stroke-width="1" />
<text x="0.00" y="0.00" dy="0.355em" font-size="9.4" text-anchor="middle" fill="#1c1c1c" font-weight="normal" transform="translate(386.90,175.04) rotate(90) scale(0.9,1)" >SM + Pa</text>
<text x="0.00" y="0.00" dy="0.355em" font-size="8.65" text-anchor="start" fill="#1c1c1c" font-weight="normal" transform="translate(121.83,241.00) rotate(-90) scale(0.92,1)" >PID0036</text>
<text x="0.00" y="0.00" dy="0.355em" font-size="8.65" text-anchor="start" fill="#1c1c1c" font-weight="normal" transform="translate(136.47,241.00) rotate(-90) scale(0.92,1)" >PID0556</text>
<text x="0.00" y="0.00" dy="0.355em" font-size="8.65" text-anchor="start" fill="#1c1c1c" font-weight="normal" transform="translate(151.12,241.00) rotate(-90) scale(0.92,1)" >PID0872</text>
<text x="0.00" y="0.00" dy="0.355em" font-size="8.65" text-anchor="start" fill="#1c1c1c" font-weight="normal" transform="translate(165.78,241.00) rotate(-90) scale(0.92,1)" >PID0083</text>
<text x="0.00" y="0.00" dy="0.355em" font-size="8.65" text-anchor="start" fill="#1c1c1c" font-weight="normal" transform="translate(180.42,241.00) rotate(-90) scale(0.92,1)" >PID0874</text>
<text x="0.00" y="0.00" dy="0.355em" font-size="8.65" text-anchor="start" fill="#1c1c1c" font-weight="normal" transform="translate(195.08,241.00) rotate(-90) scale(0.92,1)" >PID0788</text>
<text x="0.00" y="0.00" dy="0.355em" font-size="8.65" text-anchor="start" fill="#1c1c1c" font-weight="normal" transform="translate(209.72,241.00) rotate(-90) scale(0.92,1)" >PID0784</text>
<text x="0.00" y="0.00" dy="0.355em" font-size="8.65" text-anchor="start" fill="#1c1c1c" font-weight="normal" transform="translate(224.38,241.00) rotate(-90) scale(0.92,1)" >PID0024</text>
<text x="0.00" y="0.00" dy="0.355em" font-size="8.65" text-anchor="start" fill="#1c1c1c" font-weight="normal" transform="translate(239.03,241.00) rotate(-90) scale(0.92,1)" >PID0117</text>
<text x="0.00" y="0.00" dy="0.355em" font-size="8.65" text-anchor="start" fill="#1c1c1c" font-weight="normal" transform="translate(253.68,241.00) rotate(-90) scale(0.92,1)" >PID0841</text>
<text x="0.00" y="0.00" dy="0.355em" font-size="8.65" text-anchor="start" fill="#1c1c1c" font-weight="normal" transform="translate(268.32,241.00) rotate(-90) scale(0.92,1)" >PID0852</text>
<text x="0.00" y="0.00" dy="0.355em" font-size="8.65" text-anchor="start" fill="#1c1c1c" font-weight="normal" transform="translate(282.97,241.00) rotate(-90) scale(0.92,1)" >PID0859</text>
<text x="0.00" y="0.00" dy="0.355em" font-size="8.65" text-anchor="start" fill="#1c1c1c" font-weight="normal" transform="translate(297.62,241.00) rotate(-90) scale(0.92,1)" >PID0858</text>
<text x="0.00" y="0.00" dy="0.355em" font-size="8.65" text-anchor="start" fill="#1c1c1c" font-weight="normal" transform="translate(312.27,241.00) rotate(-90) scale(0.92,1)" >PID0884</text>
<text x="0.00" y="0.00" dy="0.355em" font-size="8.65" text-anchor="start" fill="#1c1c1c" font-weight="normal" transform="translate(326.92,241.00) rotate(-90) scale(0.92,1)" >PID0958</text>
<text x="0.00" y="0.00" dy="0.355em" font-size="8.65" text-anchor="start" fill="#1c1c1c" font-weight="normal" transform="translate(341.57,241.00) rotate(-90) scale(0.92,1)" >PID0854</text>
<text x="0.00" y="0.00" dy="0.355em" font-size="8.65" text-anchor="start" fill="#1c1c1c" font-weight="normal" transform="translate(356.22,241.00) rotate(-90) scale(0.92,1)" >PID0953</text>
<text x="0.00" y="0.00" dy="0.355em" font-size="8.65" text-anchor="start" fill="#1c1c1c" font-weight="normal" transform="translate(370.88,241.00) rotate(-90) scale(0.92,1)" >PID0967</text>
<line x1="119.60" y1="244.00" x2="228.40" y2="244.00" stroke="#777" stroke-width="0.45" />
<text x="0.00" y="0.00" dy="0.355em" font-size="8.76" text-anchor="middle" fill="#1c1c1c" font-weight="normal" transform="translate(172.80,251.60) scale(0.92,1)" >BCP-ALL, diagnosis</text>
<line x1="233.90" y1="244.00" x2="302.60" y2="244.00" stroke="#777" stroke-width="0.45" />
<text x="0.00" y="0.00" dy="0.355em" font-size="8.76" text-anchor="middle" fill="#1c1c1c" font-weight="normal" transform="translate(270.90,251.60) scale(0.92,1)" >BCP-ALL, relapse</text>
<line x1="307.80" y1="244.00" x2="374.80" y2="244.00" stroke="#777" stroke-width="0.45" />
<text x="0.00" y="0.00" dy="0.355em" font-size="8.76" text-anchor="middle" fill="#1c1c1c" font-weight="normal" transform="translate(343.40,251.60) scale(0.92,1)" >T-ALL</text>
<rect x="412.20" y="116.52" width="16.20" height="36.68" fill="#cfe7c6" stroke="none" stroke-width="1" />
<rect x="433.70" y="131.11" width="15.90" height="22.09" fill="#f7cfe0" stroke="none" stroke-width="1" />
<rect x="455.40" y="153.20" width="15.00" height="1.60" fill="#e3d8e8" stroke="none" stroke-width="1" />
<line x1="420.30" y1="90.30" x2="420.30" y2="116.52" stroke="#5fb760" stroke-width="0.8" />
<line x1="415.90" y1="90.30" x2="424.70" y2="90.30" stroke="#5fb760" stroke-width="0.8" />
<line x1="441.50" y1="100.50" x2="441.50" y2="131.11" stroke="#e6308a" stroke-width="0.8" />
<line x1="437.10" y1="100.50" x2="445.90" y2="100.50" stroke="#e6308a" stroke-width="0.8" />
<line x1="462.70" y1="122.40" x2="462.70" y2="153.20" stroke="#8b5fa0" stroke-width="0.8" />
<line x1="458.30" y1="122.40" x2="467.10" y2="122.40" stroke="#8b5fa0" stroke-width="0.8" />
<line x1="408.80" y1="15.20" x2="474.90" y2="15.20" stroke="#222" stroke-width="1.1" />
<line x1="408.80" y1="14.70" x2="408.80" y2="213.10" stroke="#222" stroke-width="1.1" />
<line x1="408.80" y1="212.60" x2="474.90" y2="212.60" stroke="#222" stroke-width="1.1" />
<line x1="474.90" y1="14.70" x2="474.90" y2="213.10" stroke="#222" stroke-width="1.1" />
<line x1="408.80" y1="153.20" x2="474.90" y2="153.20" stroke="#333" stroke-width="1.2" />
<line x1="474.90" y1="212.36" x2="477.90" y2="212.36" stroke="#222" stroke-width="0.9" />
<text x="0.00" y="0.00" dy="0.355em" font-size="8.55" text-anchor="start" fill="#1c1c1c" font-weight="normal" transform="translate(481.20,211.86) scale(0.92,1)" >&#8722;15</text>
<line x1="474.90" y1="192.64" x2="477.90" y2="192.64" stroke="#222" stroke-width="0.9" />
<text x="0.00" y="0.00" dy="0.355em" font-size="8.55" text-anchor="start" fill="#1c1c1c" font-weight="normal" transform="translate(481.20,192.14) scale(0.92,1)" >&#8722;10</text>
<line x1="474.90" y1="172.92" x2="477.90" y2="172.92" stroke="#222" stroke-width="0.9" />
<text x="0.00" y="0.00" dy="0.355em" font-size="8.55" text-anchor="start" fill="#1c1c1c" font-weight="normal" transform="translate(481.20,172.42) scale(0.92,1)" >&#8722;5</text>
<line x1="474.90" y1="153.20" x2="477.90" y2="153.20" stroke="#222" stroke-width="0.9" />
<text x="0.00" y="0.00" dy="0.355em" font-size="8.55" text-anchor="start" fill="#1c1c1c" font-weight="normal" transform="translate(481.20,152.70) scale(0.92,1)" >0</text>
<line x1="474.90" y1="133.48" x2="477.90" y2="133.48" stroke="#222" stroke-width="0.9" />
<text x="0.00" y="0.00" dy="0.355em" font-size="8.55" text-anchor="start" fill="#1c1c1c" font-weight="normal" transform="translate(481.20,132.98) scale(0.92,1)" >5</text>
<line x1="474.90" y1="113.76" x2="477.90" y2="113.76" stroke="#222" stroke-width="0.9" />
<text x="0.00" y="0.00" dy="0.355em" font-size="8.55" text-anchor="start" fill="#1c1c1c" font-weight="normal" transform="translate(481.20,113.26) scale(0.92,1)" >10</text>
<line x1="474.90" y1="94.04" x2="477.90" y2="94.04" stroke="#222" stroke-width="0.9" />
<text x="0.00" y="0.00" dy="0.355em" font-size="8.55" text-anchor="start" fill="#1c1c1c" font-weight="normal" transform="translate(481.20,93.54) scale(0.92,1)" >15</text>
<line x1="474.90" y1="74.32" x2="477.90" y2="74.32" stroke="#222" stroke-width="0.9" />
<text x="0.00" y="0.00" dy="0.355em" font-size="8.55" text-anchor="start" fill="#1c1c1c" font-weight="normal" transform="translate(481.20,73.82) scale(0.92,1)" >20</text>
<line x1="474.90" y1="54.60" x2="477.90" y2="54.60" stroke="#222" stroke-width="0.9" />
<text x="0.00" y="0.00" dy="0.355em" font-size="8.55" text-anchor="start" fill="#1c1c1c" font-weight="normal" transform="translate(481.20,54.10) scale(0.92,1)" >25</text>
<line x1="474.90" y1="34.88" x2="477.90" y2="34.88" stroke="#222" stroke-width="0.9" />
<text x="0.00" y="0.00" dy="0.355em" font-size="8.55" text-anchor="start" fill="#1c1c1c" font-weight="normal" transform="translate(481.20,34.38) scale(0.92,1)" >30</text>
<line x1="474.90" y1="15.16" x2="477.90" y2="15.16" stroke="#222" stroke-width="0.9" />
<text x="0.00" y="0.00" dy="0.355em" font-size="8.55" text-anchor="start" fill="#1c1c1c" font-weight="normal" transform="translate(481.20,14.66) scale(0.92,1)" >35</text>
<text x="0.00" y="0.00" dy="0.355em" font-size="9.2" text-anchor="middle" fill="#1c1c1c" font-weight="normal" transform="translate(501.60,114.30) rotate(90) scale(0.785,1)" >Mean ZIP scores</text>
<line x1="420.50" y1="34.30" x2="462.00" y2="34.30" stroke="#222" stroke-width="0.9" />
<text x="0.00" y="0.00" dy="0.355em" font-size="9.49" text-anchor="middle" fill="#1c1c1c" font-weight="normal" transform="translate(441.50,30.60) scale(0.92,1)" >***</text>
<line x1="420.50" y1="53.50" x2="441.50" y2="53.50" stroke="#222" stroke-width="0.9" />
<text x="0.00" y="0.00" dy="0.355em" font-size="7.8" text-anchor="middle" fill="#1c1c1c" font-weight="normal" transform="translate(431.50,46.60) scale(0.9,1)" >ns</text>
<circle cx="420.40" cy="69.40" r="1.9" fill="#bfe3b8" stroke="#5fb760" stroke-width="0.9" />
<circle cx="420.40" cy="78.60" r="1.9" fill="#bfe3b8" stroke="#5fb760" stroke-width="0.9" />
<circle cx="420.40" cy="86.80" r="1.9" fill="#bfe3b8" stroke="#5fb760" stroke-width="0.9" />
<circle cx="416.30" cy="94.30" r="1.9" fill="#bfe3b8" stroke="#5fb760" stroke-width="0.9" />
<circle cx="416.30" cy="98.20" r="1.9" fill="#bfe3b8" stroke="#5fb760" stroke-width="0.9" />
<circle cx="424.20" cy="97.20" r="1.9" fill="#bfe3b8" stroke="#5fb760" stroke-width="0.9" />
<circle cx="424.20" cy="101.10" r="1.9" fill="#bfe3b8" stroke="#5fb760" stroke-width="0.9" />
<circle cx="416.30" cy="104.00" r="1.9" fill="#bfe3b8" stroke="#5fb760" stroke-width="0.9" />
<circle cx="416.30" cy="119.60" r="1.9" fill="#2f9e44" stroke="#2f9e44" stroke-width="0.9" />
<circle cx="424.20" cy="118.80" r="1.9" fill="#bfe3b8" stroke="#5fb760" stroke-width="0.9" />
<circle cx="416.30" cy="127.10" r="1.9" fill="#bfe3b8" stroke="#5fb760" stroke-width="0.9" />
<circle cx="424.20" cy="126.30" r="1.9" fill="#2f9e44" stroke="#2f9e44" stroke-width="0.9" />
<circle cx="424.20" cy="135.10" r="1.9" fill="#bfe3b8" stroke="#5fb760" stroke-width="0.9" />
<circle cx="416.30" cy="138.70" r="1.9" fill="#bfe3b8" stroke="#5fb760" stroke-width="0.9" />
<circle cx="424.20" cy="140.90" r="1.9" fill="#bfe3b8" stroke="#5fb760" stroke-width="0.9" />
<circle cx="416.30" cy="143.80" r="1.9" fill="#2f9e44" stroke="#2f9e44" stroke-width="0.9" />
<circle cx="416.30" cy="154.30" r="1.9" fill="#2f9e44" stroke="#2f9e44" stroke-width="0.9" />
<circle cx="424.20" cy="153.10" r="1.9" fill="#bfe3b8" stroke="#5fb760" stroke-width="0.9" />
<circle cx="441.50" cy="77.60" r="1.9" fill="#f9b5d3" stroke="#e6308a" stroke-width="0.9" />
<circle cx="441.50" cy="92.30" r="1.9" fill="#f9b5d3" stroke="#e6308a" stroke-width="0.9" />
<circle cx="437.60" cy="101.80" r="1.9" fill="#f9b5d3" stroke="#e6308a" stroke-width="0.9" />
<circle cx="445.70" cy="102.30" r="1.9" fill="#f9b5d3" stroke="#e6308a" stroke-width="0.9" />
<circle cx="441.50" cy="106.40" r="1.9" fill="#f9b5d3" stroke="#e6308a" stroke-width="0.9" />
<circle cx="445.70" cy="113.70" r="1.9" fill="#f9b5d3" stroke="#e6308a" stroke-width="0.9" />
<circle cx="437.60" cy="117.00" r="1.9" fill="#f9b5d3" stroke="#e6308a" stroke-width="0.9" />
<circle cx="437.60" cy="120.90" r="1.9" fill="#f9b5d3" stroke="#e6308a" stroke-width="0.9" />
<circle cx="445.70" cy="121.30" r="1.9" fill="#f9b5d3" stroke="#e6308a" stroke-width="0.9" />
<circle cx="441.50" cy="127.80" r="1.9" fill="#f9b5d3" stroke="#e6308a" stroke-width="0.9" />
<circle cx="441.50" cy="138.70" r="1.9" fill="#f9b5d3" stroke="#e6308a" stroke-width="0.9" />
<circle cx="441.50" cy="142.60" r="1.9" fill="#e2106e" stroke="#e2106e" stroke-width="0.9" />
<circle cx="441.50" cy="148.50" r="1.9" fill="#f9b5d3" stroke="#e6308a" stroke-width="0.9" />
<circle cx="437.60" cy="156.00" r="1.9" fill="#f9b5d3" stroke="#e6308a" stroke-width="0.9" />
<circle cx="445.70" cy="157.50" r="1.9" fill="#e2106e" stroke="#e2106e" stroke-width="0.9" />
<circle cx="437.60" cy="170.10" r="1.9" fill="#e2106e" stroke="#e2106e" stroke-width="0.9" />
<circle cx="445.70" cy="171.60" r="1.9" fill="#f9b5d3" stroke="#e6308a" stroke-width="0.9" />
<circle cx="441.50" cy="182.00" r="1.9" fill="#e2106e" stroke="#e2106e" stroke-width="0.9" />
<circle cx="462.60" cy="78.00" r="1.9" fill="#bfa3cb" stroke="#8b5fa0" stroke-width="0.9" />
<circle cx="462.60" cy="104.90" r="1.9" fill="#bfa3cb" stroke="#8b5fa0" stroke-width="0.9" />
<circle cx="462.60" cy="114.40" r="1.9" fill="#bfa3cb" stroke="#8b5fa0" stroke-width="0.9" />
<circle cx="462.60" cy="130.80" r="1.9" fill="#bfa3cb" stroke="#8b5fa0" stroke-width="0.9" />
<circle cx="455.80" cy="138.30" r="1.9" fill="#bfa3cb" stroke="#8b5fa0" stroke-width="0.9" />
<circle cx="455.80" cy="142.30" r="1.9" fill="#bfa3cb" stroke="#8b5fa0" stroke-width="0.9" />
<circle cx="462.60" cy="142.00" r="1.9" fill="#bfa3cb" stroke="#8b5fa0" stroke-width="0.9" />
<circle cx="462.60" cy="152.10" r="1.9" fill="#bfa3cb" stroke="#8b5fa0" stroke-width="0.9" />
<circle cx="455.80" cy="165.00" r="1.9" fill="#bfa3cb" stroke="#8b5fa0" stroke-width="0.9" />
<circle cx="455.80" cy="170.70" r="1.9" fill="#bfa3cb" stroke="#8b5fa0" stroke-width="0.9" />
<circle cx="469.50" cy="167.80" r="1.9" fill="#bfa3cb" stroke="#8b5fa0" stroke-width="0.9" />
<circle cx="469.50" cy="171.90" r="1.9" fill="#bfa3cb" stroke="#8b5fa0" stroke-width="0.9" />
<circle cx="462.60" cy="178.40" r="1.9" fill="#4b1d5a" stroke="#4b1d5a" stroke-width="0.9" />
<circle cx="462.60" cy="184.40" r="1.9" fill="#4b1d5a" stroke="#4b1d5a" stroke-width="0.9" />
<circle cx="455.80" cy="189.50" r="1.9" fill="#4b1d5a" stroke="#4b1d5a" stroke-width="0.9" />
<circle cx="462.60" cy="190.60" r="1.9" fill="#bfa3cb" stroke="#8b5fa0" stroke-width="0.9" />
<circle cx="469.50" cy="189.50" r="1.9" fill="#bfa3cb" stroke="#8b5fa0" stroke-width="0.9" />
<circle cx="462.60" cy="196.00" r="1.9" fill="#4b1d5a" stroke="#4b1d5a" stroke-width="0.9" />
<text x="0.00" y="0.00" dy="0.355em" font-size="8.97" text-anchor="start" fill="#1c1c1c" font-weight="normal" transform="translate(414.30,237.60) scale(0.92,1)" >SM +</text>
<circle cx="445.00" cy="226.50" r="1.6" fill="#5fb760" stroke="#3f9e48" stroke-width="0.8" />
<text x="0.00" y="0.00" dy="0.355em" font-size="8.97" text-anchor="start" fill="#1c1c1c" font-weight="normal" transform="translate(456.50,226.70) scale(0.92,1)" >Mo</text>
<circle cx="445.00" cy="237.45" r="1.6" fill="#f0609f" stroke="#e2106e" stroke-width="0.8" />
<text x="0.00" y="0.00" dy="0.355em" font-size="8.97" text-anchor="start" fill="#1c1c1c" font-weight="normal" transform="translate(456.50,237.65) scale(0.92,1)" >En</text>
<circle cx="445.00" cy="248.40" r="1.6" fill="#b89cc6" stroke="#7d4f92" stroke-width="0.8" />
<text x="0.00" y="0.00" dy="0.355em" font-size="8.97" text-anchor="start" fill="#1c1c1c" font-weight="normal" transform="translate(456.50,248.60) scale(0.92,1)" >Pa</text>
<line x1="473.40" y1="224.00" x2="473.40" y2="254.60" stroke="#aaa" stroke-width="0.6" stroke-dasharray="2,1.5"/>
<text x="0.00" y="0.00" dy="0.355em" font-size="8.97" text-anchor="start" fill="#1c1c1c" font-weight="normal" transform="translate(476.60,235.00) scale(0.92,1)" >HDAC</text>
<text x="0.00" y="0.00" dy="0.355em" font-size="8.97" text-anchor="start" fill="#1c1c1c" font-weight="normal" transform="translate(476.60,244.90) scale(0.92,1)" >inhibitors</text>
<text x="0.00" y="0.00" dy="0.355em" font-size="11.6" text-anchor="start" fill="#000" font-weight="bold" transform="translate(7.20,277.70) scale(0.82,1)" >B</text>
<text x="0.00" y="0.00" dy="0.355em" font-size="8.75" text-anchor="end" fill="#1c1c1c" font-weight="normal" transform="translate(66.50,287.30) scale(0.97,1)" >TCF3::HLF</text>
<text x="0.00" y="0.00" dy="0.355em" font-size="8.75" text-anchor="end" fill="#1c1c1c" font-weight="normal" transform="translate(66.50,301.60) scale(0.97,1)" >TCF3::PBX1</text>
<text x="0.00" y="0.00" dy="0.355em" font-size="8.75" text-anchor="end" fill="#1c1c1c" font-weight="normal" transform="translate(66.50,315.90) scale(0.97,1)" >Ph-like</text>
<text x="0.00" y="0.00" dy="0.355em" font-size="8.75" text-anchor="end" fill="#1c1c1c" font-weight="normal" transform="translate(66.50,330.20) scale(0.97,1)" >Hyperdiploid</text>
<text x="0.00" y="0.00" dy="0.355em" font-size="8.75" text-anchor="end" fill="#1c1c1c" font-weight="normal" transform="translate(66.50,344.50) scale(0.97,1)" >PAX5alt</text>
<text x="0.00" y="0.00" dy="0.355em" font-size="8.75" text-anchor="end" fill="#1c1c1c" font-weight="normal" transform="translate(66.50,358.80) scale(0.97,1)" >KMT2Ar</text>
<text x="0.00" y="0.00" dy="0.355em" font-size="8.75" text-anchor="end" fill="#1c1c1c" font-weight="normal" transform="translate(66.50,373.10) scale(0.97,1)" >iAMP21</text>
<text x="0.00" y="0.00" dy="0.355em" font-size="8.75" text-anchor="end" fill="#1c1c1c" font-weight="normal" transform="translate(66.50,387.40) scale(0.97,1)" >MEF2D</text>
<text x="0.00" y="0.00" dy="0.355em" font-size="8.75" text-anchor="end" fill="#1c1c1c" font-weight="normal" transform="translate(66.50,401.70) scale(0.97,1)" >other</text>
<line x1="291.20" y1="271.50" x2="291.20" y2="413.20" stroke="#888" stroke-width="0.9" />
<line x1="301.30" y1="271.50" x2="301.30" y2="413.20" stroke="#999" stroke-width="0.7" />
<rect x="133.75" y="282.70" width="15.35" height="9.20" fill="#e2e6f3" stroke="none" stroke-width="1" />
<line x1="126.08" y1="287.30" x2="133.75" y2="287.30" stroke="#1e3a6b" stroke-width="0.8" />
<circle cx="133.75" cy="282.90" r="1.4" fill="#e3ebfa" stroke="#2a4a86" stroke-width="0.75" />
<circle cx="133.75" cy="287.30" r="1.4" fill="#e3ebfa" stroke="#2a4a86" stroke-width="0.75" />
<circle cx="133.75" cy="291.70" r="1.4" fill="#e3ebfa" stroke="#2a4a86" stroke-width="0.75" />
<circle cx="149.10" cy="282.90" r="1.4" fill="#e3ebfa" stroke="#2a4a86" stroke-width="0.75" />
<circle cx="149.10" cy="287.30" r="1.4" fill="#e3ebfa" stroke="#2a4a86" stroke-width="0.75" />
<circle cx="149.10" cy="291.70" r="1.4" fill="#e3ebfa" stroke="#2a4a86" stroke-width="0.75" />
<path d="M124.53,287.30 L126.08,284.80 L127.62,287.30 L126.08,289.80 Z" fill="#fff" stroke="#1e3a6b" stroke-width="0.7"/>
<rect x="114.26" y="297.00" width="20.72" height="9.20" fill="#e2e6f3" stroke="none" stroke-width="1" />
<line x1="109.19" y1="301.60" x2="114.26" y2="301.60" stroke="#1e3a6b" stroke-width="0.8" />
<line x1="134.98" y1="301.60" x2="149.10" y2="301.60" stroke="#1e3a6b" stroke-width="0.8" />
<line x1="119.47" y1="297.00" x2="119.47" y2="306.20" stroke="#1e3a6b" stroke-width="0.9" />
<circle cx="119.17" cy="297.20" r="1.4" fill="#e3ebfa" stroke="#2a4a86" stroke-width="0.75" />
<circle cx="118.40" cy="300.10" r="1.4" fill="#e3ebfa" stroke="#2a4a86" stroke-width="0.75" />
<circle cx="119.94" cy="303.10" r="1.4" fill="#e3ebfa" stroke="#2a4a86" stroke-width="0.75" />
<circle cx="119.94" cy="306.00" r="1.4" fill="#e3ebfa" stroke="#2a4a86" stroke-width="0.75" />
<circle cx="116.87" cy="301.60" r="1.4" fill="#e3ebfa" stroke="#2a4a86" stroke-width="0.75" />
<path d="M107.64,301.60 L109.19,299.10 L110.74,301.60 L109.19,304.10 Z" fill="#fff" stroke="#1e3a6b" stroke-width="0.7"/>
<path d="M147.55,301.60 L149.10,299.10 L150.65,301.60 L149.10,304.10 Z" fill="#fff" stroke="#1e3a6b" stroke-width="0.7"/>
<rect x="83.09" y="311.30" width="15.66" height="9.20" fill="#e2e6f3" stroke="none" stroke-width="1" />
<line x1="79.72" y1="315.90" x2="83.09" y2="315.90" stroke="#1e3a6b" stroke-width="0.8" />
<line x1="98.75" y1="315.90" x2="102.28" y2="315.90" stroke="#1e3a6b" stroke-width="0.8" />
<line x1="95.07" y1="311.30" x2="95.07" y2="320.50" stroke="#1e3a6b" stroke-width="0.9" />
<circle cx="79.72" cy="315.90" r="1.4" fill="#e3ebfa" stroke="#2a4a86" stroke-width="0.75" />
<circle cx="83.09" cy="315.90" r="1.4" fill="#e3ebfa" stroke="#2a4a86" stroke-width="0.75" />
<circle cx="95.38" cy="312.40" r="1.4" fill="#e3ebfa" stroke="#2a4a86" stroke-width="0.75" />
<circle cx="95.07" cy="315.90" r="1.4" fill="#e3ebfa" stroke="#2a4a86" stroke-width="0.75" />
<circle cx="95.07" cy="319.40" r="1.4" fill="#e3ebfa" stroke="#2a4a86" stroke-width="0.75" />
<path d="M100.73,315.90 L102.28,313.40 L103.83,315.90 L102.28,318.40 Z" fill="#fff" stroke="#1e3a6b" stroke-width="0.7"/>
<rect x="83.09" y="325.60" width="4.61" height="9.20" fill="#e2e6f3" stroke="none" stroke-width="1" />
<line x1="87.70" y1="330.20" x2="95.84" y2="330.20" stroke="#1e3a6b" stroke-width="0.8" />
<circle cx="83.09" cy="326.00" r="1.4" fill="#e3ebfa" stroke="#2a4a86" stroke-width="0.75" />
<circle cx="83.09" cy="328.80" r="1.4" fill="#e3ebfa" stroke="#2a4a86" stroke-width="0.75" />
<circle cx="83.09" cy="331.80" r="1.4" fill="#e3ebfa" stroke="#2a4a86" stroke-width="0.75" />
<circle cx="83.09" cy="334.60" r="1.4" fill="#e3ebfa" stroke="#2a4a86" stroke-width="0.75" />
<circle cx="86.93" cy="327.20" r="1.4" fill="#e3ebfa" stroke="#2a4a86" stroke-width="0.75" />
<circle cx="86.93" cy="330.20" r="1.4" fill="#e3ebfa" stroke="#2a4a86" stroke-width="0.75" />
<circle cx="86.93" cy="333.20" r="1.4" fill="#e3ebfa" stroke="#2a4a86" stroke-width="0.75" />
<path d="M94.29,330.20 L95.84,327.70 L97.39,330.20 L95.84,332.70 Z" fill="#fff" stroke="#1e3a6b" stroke-width="0.7"/>
<rect x="96.91" y="339.90" width="43.90" height="9.20" fill="#e2e6f3" stroke="none" stroke-width="1" />
<line x1="92.31" y1="344.50" x2="96.91" y2="344.50" stroke="#1e3a6b" stroke-width="0.8" />
<line x1="140.81" y1="344.50" x2="149.10" y2="344.50" stroke="#1e3a6b" stroke-width="0.8" />
<line x1="107.35" y1="339.90" x2="107.35" y2="349.10" stroke="#1e3a6b" stroke-width="0.9" />
<circle cx="93.84" cy="340.50" r="1.4" fill="#e3ebfa" stroke="#2a4a86" stroke-width="0.75" />
<circle cx="94.61" cy="344.50" r="1.4" fill="#e3ebfa" stroke="#2a4a86" stroke-width="0.75" />
<circle cx="92.31" cy="344.50" r="1.4" fill="#e3ebfa" stroke="#2a4a86" stroke-width="0.75" />
<circle cx="93.07" cy="348.50" r="1.4" fill="#e3ebfa" stroke="#2a4a86" stroke-width="0.75" />
<circle cx="107.35" cy="344.50" r="1.4" fill="#e3ebfa" stroke="#2a4a86" stroke-width="0.75" />
<circle cx="110.72" cy="344.50" r="1.4" fill="#e3ebfa" stroke="#2a4a86" stroke-width="0.75" />
<circle cx="133.75" cy="344.50" r="1.4" fill="#e3ebfa" stroke="#2a4a86" stroke-width="0.75" />
<circle cx="149.10" cy="341.50" r="1.4" fill="#e3ebfa" stroke="#2a4a86" stroke-width="0.75" />
<circle cx="149.10" cy="347.50" r="1.4" fill="#e3ebfa" stroke="#2a4a86" stroke-width="0.75" />
<rect x="98.14" y="354.20" width="29.16" height="9.20" fill="#e2e6f3" stroke="none" stroke-width="1" />
<line x1="92.31" y1="358.80" x2="98.14" y2="358.80" stroke="#1e3a6b" stroke-width="0.8" />
<line x1="127.30" y1="358.80" x2="149.10" y2="358.80" stroke="#1e3a6b" stroke-width="0.8" />
<line x1="113.49" y1="354.20" x2="113.49" y2="363.40" stroke="#1e3a6b" stroke-width="0.9" />
<circle cx="92.31" cy="358.80" r="1.05" fill="#1e3a6b" stroke="#1e3a6b" stroke-width="0.75" />
<circle cx="95.38" cy="358.80" r="1.05" fill="#1e3a6b" stroke="#1e3a6b" stroke-width="0.75" />
<circle cx="98.14" cy="358.80" r="1.05" fill="#1e3a6b" stroke="#1e3a6b" stroke-width="0.75" />
<circle cx="105.51" cy="358.80" r="1.05" fill="#1e3a6b" stroke="#1e3a6b" stroke-width="0.75" />
<circle cx="113.80" cy="354.80" r="1.05" fill="#1e3a6b" stroke="#1e3a6b" stroke-width="0.75" />
<circle cx="114.56" cy="358.80" r="1.05" fill="#1e3a6b" stroke="#1e3a6b" stroke-width="0.75" />
<circle cx="113.03" cy="362.80" r="1.05" fill="#1e3a6b" stroke="#1e3a6b" stroke-width="0.75" />
<circle cx="121.47" cy="358.80" r="1.05" fill="#1e3a6b" stroke="#1e3a6b" stroke-width="0.75" />
<circle cx="149.10" cy="355.80" r="1.05" fill="#1e3a6b" stroke="#1e3a6b" stroke-width="0.75" />
<circle cx="149.10" cy="361.80" r="1.05" fill="#1e3a6b" stroke="#1e3a6b" stroke-width="0.75" />
<line x1="92.31" y1="368.50" x2="92.31" y2="377.70" stroke="#1e3a6b" stroke-width="0.9" />
<path d="M90.76,373.10 L92.31,370.60 L93.86,373.10 L92.31,375.60 Z" fill="#1e3a6b" stroke="#1e3a6b" stroke-width="0.7"/>
<line x1="95.07" y1="382.80" x2="95.07" y2="392.00" stroke="#1e3a6b" stroke-width="0.9" />
<path d="M93.52,387.40 L95.07,384.90 L96.62,387.40 L95.07,389.90 Z" fill="#1e3a6b" stroke="#1e3a6b" stroke-width="0.7"/>
<line x1="103.05" y1="401.70" x2="149.10" y2="401.70" stroke="#1e3a6b" stroke-width="0.8" />
<line x1="133.75" y1="397.10" x2="133.75" y2="406.30" stroke="#1e3a6b" stroke-width="0.9" />
<path d="M101.50,401.70 L103.05,399.20 L104.60,401.70 L103.05,404.20 Z" fill="#1e3a6b" stroke="#1e3a6b" stroke-width="0.7"/>
<path d="M132.20,401.70 L133.75,399.20 L135.30,401.70 L133.75,404.20 Z" fill="#1e3a6b" stroke="#1e3a6b" stroke-width="0.7"/>
<path d="M147.55,401.70 L149.10,399.20 L150.65,401.70 L149.10,404.20 Z" fill="#1e3a6b" stroke="#1e3a6b" stroke-width="0.7"/>
<rect x="221.46" y="282.70" width="6.06" height="9.20" fill="#e2e6f3" stroke="none" stroke-width="1" />
<line x1="210.63" y1="287.30" x2="220.54" y2="287.30" stroke="#1e3a6b" stroke-width="0.8" />
<circle cx="222.38" cy="286.30" r="1.4" fill="#e3ebfa" stroke="#2a4a86" stroke-width="0.75" />
<circle cx="224.21" cy="282.80" r="1.4" fill="#e3ebfa" stroke="#2a4a86" stroke-width="0.75" />
<circle cx="226.05" cy="284.80" r="1.4" fill="#e3ebfa" stroke="#2a4a86" stroke-width="0.75" />
<circle cx="225.13" cy="287.80" r="1.4" fill="#e3ebfa" stroke="#2a4a86" stroke-width="0.75" />
<circle cx="226.05" cy="290.30" r="1.4" fill="#e3ebfa" stroke="#2a4a86" stroke-width="0.75" />
<circle cx="226.96" cy="292.30" r="1.4" fill="#e3ebfa" stroke="#2a4a86" stroke-width="0.75" />
<path d="M209.08,287.30 L210.63,284.80 L212.18,287.30 L210.63,289.80 Z" fill="#fff" stroke="#1e3a6b" stroke-width="0.7"/>
<rect x="212.28" y="297.00" width="7.89" height="9.20" fill="#e2e6f3" stroke="none" stroke-width="1" />
<line x1="205.86" y1="301.60" x2="209.16" y2="301.60" stroke="#1e3a6b" stroke-width="0.8" />
<line x1="217.97" y1="297.00" x2="217.97" y2="306.20" stroke="#1e3a6b" stroke-width="0.9" />
<circle cx="216.87" cy="298.10" r="1.4" fill="#e3ebfa" stroke="#2a4a86" stroke-width="0.75" />
<circle cx="218.70" cy="298.10" r="1.4" fill="#e3ebfa" stroke="#2a4a86" stroke-width="0.75" />
<circle cx="217.97" cy="301.60" r="1.4" fill="#e3ebfa" stroke="#2a4a86" stroke-width="0.75" />
<circle cx="217.97" cy="305.10" r="1.4" fill="#e3ebfa" stroke="#2a4a86" stroke-width="0.75" />
<path d="M204.31,301.60 L205.86,299.10 L207.41,301.60 L205.86,304.10 Z" fill="#fff" stroke="#1e3a6b" stroke-width="0.7"/>
<path d="M222.66,301.60 L224.21,299.10 L225.76,301.60 L224.21,304.10 Z" fill="#fff" stroke="#1e3a6b" stroke-width="0.7"/>
<line x1="210.45" y1="315.90" x2="213.20" y2="315.90" stroke="#1e3a6b" stroke-width="0.8" />
<circle cx="210.45" cy="311.90" r="1.4" fill="#e3ebfa" stroke="#2a4a86" stroke-width="0.75" />
<circle cx="211.37" cy="314.90" r="1.4" fill="#e3ebfa" stroke="#2a4a86" stroke-width="0.75" />
<circle cx="209.90" cy="317.40" r="1.4" fill="#e3ebfa" stroke="#2a4a86" stroke-width="0.75" />
<circle cx="210.45" cy="320.10" r="1.4" fill="#e3ebfa" stroke="#2a4a86" stroke-width="0.75" />
<circle cx="212.83" cy="319.90" r="1.4" fill="#e3ebfa" stroke="#2a4a86" stroke-width="0.75" />
<path d="M214.59,315.90 L216.14,313.40 L217.69,315.90 L216.14,318.40 Z" fill="#fff" stroke="#1e3a6b" stroke-width="0.7"/>
<rect x="227.15" y="325.60" width="21.84" height="9.20" fill="#e2e6f3" stroke="none" stroke-width="1" />
<line x1="217.42" y1="330.20" x2="217.42" y2="330.20" stroke="#1e3a6b" stroke-width="0.8" />
<line x1="224.21" y1="325.60" x2="224.21" y2="334.80" stroke="#1e3a6b" stroke-width="0.9" />
<circle cx="217.79" cy="327.20" r="1.4" fill="#e3ebfa" stroke="#2a4a86" stroke-width="0.75" />
<circle cx="216.87" cy="333.20" r="1.4" fill="#e3ebfa" stroke="#2a4a86" stroke-width="0.75" />
<circle cx="224.21" cy="326.70" r="1.4" fill="#e3ebfa" stroke="#2a4a86" stroke-width="0.75" />
<circle cx="224.21" cy="330.20" r="1.4" fill="#e3ebfa" stroke="#2a4a86" stroke-width="0.75" />
<circle cx="224.21" cy="333.70" r="1.4" fill="#e3ebfa" stroke="#2a4a86" stroke-width="0.75" />
<circle cx="248.98" cy="327.20" r="1.4" fill="#e3ebfa" stroke="#2a4a86" stroke-width="0.75" />
<circle cx="248.98" cy="333.20" r="1.4" fill="#e3ebfa" stroke="#2a4a86" stroke-width="0.75" />
<rect x="212.28" y="339.90" width="10.09" height="9.20" fill="#e2e6f3" stroke="none" stroke-width="1" />
<line x1="199.99" y1="344.50" x2="205.86" y2="344.50" stroke="#1e3a6b" stroke-width="0.8" />
<line x1="222.38" y1="344.50" x2="231.55" y2="344.50" stroke="#1e3a6b" stroke-width="0.8" />
<line x1="214.12" y1="339.90" x2="214.12" y2="349.10" stroke="#1e3a6b" stroke-width="0.9" />
<circle cx="205.31" cy="344.50" r="1.4" fill="#e3ebfa" stroke="#2a4a86" stroke-width="0.75" />
<circle cx="212.28" cy="340.00" r="1.4" fill="#e3ebfa" stroke="#2a4a86" stroke-width="0.75" />
<circle cx="215.03" cy="340.00" r="1.4" fill="#e3ebfa" stroke="#2a4a86" stroke-width="0.75" />
<circle cx="214.12" cy="343.50" r="1.4" fill="#e3ebfa" stroke="#2a4a86" stroke-width="0.75" />
<circle cx="214.12" cy="346.50" r="1.4" fill="#e3ebfa" stroke="#2a4a86" stroke-width="0.75" />
<circle cx="213.20" cy="349.30" r="1.4" fill="#e3ebfa" stroke="#2a4a86" stroke-width="0.75" />
<circle cx="222.38" cy="344.50" r="1.4" fill="#e3ebfa" stroke="#2a4a86" stroke-width="0.75" />
<circle cx="226.41" cy="344.50" r="1.4" fill="#e3ebfa" stroke="#2a4a86" stroke-width="0.75" />
<path d="M198.44,344.50 L199.99,342.00 L201.54,344.50 L199.99,347.00 Z" fill="#fff" stroke="#1e3a6b" stroke-width="0.7"/>
<path d="M230.00,344.50 L231.55,342.00 L233.10,344.50 L231.55,347.00 Z" fill="#fff" stroke="#1e3a6b" stroke-width="0.7"/>
<rect x="213.20" y="354.20" width="13.76" height="9.20" fill="#e2e6f3" stroke="none" stroke-width="1" />
<circle cx="212.28" cy="359.80" r="1.05" fill="#1e3a6b" stroke="#1e3a6b" stroke-width="0.75" />
<circle cx="213.20" cy="356.80" r="1.05" fill="#1e3a6b" stroke="#1e3a6b" stroke-width="0.75" />
<circle cx="214.12" cy="361.80" r="1.05" fill="#1e3a6b" stroke="#1e3a6b" stroke-width="0.75" />
<circle cx="215.95" cy="357.80" r="1.05" fill="#1e3a6b" stroke="#1e3a6b" stroke-width="0.75" />
<circle cx="216.87" cy="360.80" r="1.05" fill="#1e3a6b" stroke="#1e3a6b" stroke-width="0.75" />
<circle cx="217.79" cy="354.80" r="1.05" fill="#1e3a6b" stroke="#1e3a6b" stroke-width="0.75" />
<circle cx="218.70" cy="358.80" r="1.05" fill="#1e3a6b" stroke="#1e3a6b" stroke-width="0.75" />
<circle cx="218.70" cy="362.80" r="1.05" fill="#1e3a6b" stroke="#1e3a6b" stroke-width="0.75" />
<circle cx="220.54" cy="357.80" r="1.05" fill="#1e3a6b" stroke="#1e3a6b" stroke-width="0.75" />
<circle cx="222.38" cy="359.80" r="1.05" fill="#1e3a6b" stroke="#1e3a6b" stroke-width="0.75" />
<circle cx="224.21" cy="356.80" r="1.05" fill="#1e3a6b" stroke="#1e3a6b" stroke-width="0.75" />
<circle cx="225.13" cy="360.80" r="1.05" fill="#1e3a6b" stroke="#1e3a6b" stroke-width="0.75" />
<circle cx="226.05" cy="358.80" r="1.05" fill="#1e3a6b" stroke="#1e3a6b" stroke-width="0.75" />
<circle cx="227.33" cy="356.80" r="1.05" fill="#1e3a6b" stroke="#1e3a6b" stroke-width="0.75" />
<line x1="224.94" y1="368.50" x2="224.94" y2="377.70" stroke="#1e3a6b" stroke-width="0.9" />
<path d="M223.39,373.10 L224.94,370.60 L226.49,373.10 L224.94,375.60 Z" fill="#1e3a6b" stroke="#1e3a6b" stroke-width="0.7"/>
<line x1="220.36" y1="382.80" x2="220.36" y2="392.00" stroke="#1e3a6b" stroke-width="0.9" />
<path d="M218.81,387.40 L220.36,384.90 L221.91,387.40 L220.36,389.90 Z" fill="#1e3a6b" stroke="#1e3a6b" stroke-width="0.7"/>
<line x1="221.46" y1="401.70" x2="229.72" y2="401.70" stroke="#1e3a6b" stroke-width="0.8" />
<circle cx="221.46" cy="404.70" r="1.05" fill="#1e3a6b" stroke="#1e3a6b" stroke-width="0.75" />
<circle cx="222.38" cy="401.70" r="1.05" fill="#1e3a6b" stroke="#1e3a6b" stroke-width="0.75" />
<circle cx="223.29" cy="404.20" r="1.05" fill="#1e3a6b" stroke="#1e3a6b" stroke-width="0.75" />
<circle cx="224.21" cy="398.70" r="1.05" fill="#1e3a6b" stroke="#1e3a6b" stroke-width="0.75" />
<circle cx="224.94" cy="401.70" r="1.05" fill="#1e3a6b" stroke="#1e3a6b" stroke-width="0.75" />
<path d="M228.16,401.70 L229.72,399.20 L231.27,401.70 L229.72,404.20 Z" fill="#1e3a6b" stroke="#1e3a6b" stroke-width="0.7"/>
<rect x="298.27" y="282.70" width="21.21" height="9.20" fill="#e2e6f3" stroke="none" stroke-width="1" />
<line x1="285.14" y1="287.30" x2="298.27" y2="287.30" stroke="#1e3a6b" stroke-width="0.8" />
<circle cx="298.27" cy="282.90" r="1.4" fill="#e3ebfa" stroke="#2a4a86" stroke-width="0.75" />
<circle cx="298.27" cy="287.30" r="1.4" fill="#e3ebfa" stroke="#2a4a86" stroke-width="0.75" />
<circle cx="298.27" cy="291.70" r="1.4" fill="#e3ebfa" stroke="#2a4a86" stroke-width="0.75" />
<circle cx="303.93" cy="287.30" r="1.4" fill="#e3ebfa" stroke="#2a4a86" stroke-width="0.75" />
<circle cx="317.46" cy="287.30" r="1.4" fill="#e3ebfa" stroke="#2a4a86" stroke-width="0.75" />
<circle cx="319.48" cy="283.80" r="1.4" fill="#e3ebfa" stroke="#2a4a86" stroke-width="0.75" />
<circle cx="319.48" cy="290.30" r="1.4" fill="#e3ebfa" stroke="#2a4a86" stroke-width="0.75" />
<path d="M283.59,287.30 L285.14,284.80 L286.69,287.30 L285.14,289.80 Z" fill="#fff" stroke="#1e3a6b" stroke-width="0.7"/>
<rect x="297.26" y="297.00" width="33.33" height="9.20" fill="#e2e6f3" stroke="none" stroke-width="1" />
<line x1="290.39" y1="301.60" x2="297.26" y2="301.60" stroke="#1e3a6b" stroke-width="0.8" />
<line x1="313.82" y1="297.00" x2="313.82" y2="306.20" stroke="#1e3a6b" stroke-width="0.9" />
<circle cx="304.13" cy="301.60" r="1.4" fill="#e3ebfa" stroke="#2a4a86" stroke-width="0.75" />
<circle cx="327.56" cy="298.40" r="1.4" fill="#e3ebfa" stroke="#2a4a86" stroke-width="0.75" />
<circle cx="327.56" cy="304.80" r="1.4" fill="#e3ebfa" stroke="#2a4a86" stroke-width="0.75" />
<path d="M288.84,301.60 L290.39,299.10 L291.94,301.60 L290.39,304.10 Z" fill="#fff" stroke="#1e3a6b" stroke-width="0.7"/>
<rect x="304.53" y="311.30" width="10.50" height="9.20" fill="#e2e6f3" stroke="none" stroke-width="1" />
<line x1="298.88" y1="315.90" x2="318.47" y2="315.90" stroke="#1e3a6b" stroke-width="0.8" />
<line x1="309.78" y1="311.30" x2="309.78" y2="320.50" stroke="#1e3a6b" stroke-width="0.9" />
<circle cx="304.53" cy="315.90" r="1.4" fill="#e3ebfa" stroke="#2a4a86" stroke-width="0.75" />
<circle cx="306.96" cy="315.90" r="1.4" fill="#e3ebfa" stroke="#2a4a86" stroke-width="0.75" />
<circle cx="309.78" cy="315.90" r="1.4" fill="#e3ebfa" stroke="#2a4a86" stroke-width="0.75" />
<circle cx="312.81" cy="315.90" r="1.4" fill="#e3ebfa" stroke="#2a4a86" stroke-width="0.75" />
<path d="M297.33,315.90 L298.88,313.40 L300.43,315.90 L298.88,318.40 Z" fill="#fff" stroke="#1e3a6b" stroke-width="0.7"/>
<path d="M316.92,315.90 L318.47,313.40 L320.02,315.90 L318.47,318.40 Z" fill="#fff" stroke="#1e3a6b" stroke-width="0.7"/>
<rect x="304.94" y="325.60" width="21.61" height="9.20" fill="#e2e6f3" stroke="none" stroke-width="1" />
<line x1="315.44" y1="325.60" x2="315.44" y2="334.80" stroke="#1e3a6b" stroke-width="0.9" />
<circle cx="305.14" cy="329.20" r="1.4" fill="#e3ebfa" stroke="#2a4a86" stroke-width="0.75" />
<circle cx="307.97" cy="326.70" r="1.4" fill="#e3ebfa" stroke="#2a4a86" stroke-width="0.75" />
<circle cx="307.97" cy="332.70" r="1.4" fill="#e3ebfa" stroke="#2a4a86" stroke-width="0.75" />
<circle cx="321.90" cy="330.20" r="1.4" fill="#e3ebfa" stroke="#2a4a86" stroke-width="0.75" />
<circle cx="325.94" cy="326.70" r="1.4" fill="#e3ebfa" stroke="#2a4a86" stroke-width="0.75" />
<circle cx="325.94" cy="331.20" r="1.4" fill="#e3ebfa" stroke="#2a4a86" stroke-width="0.75" />
<rect x="297.66" y="339.90" width="21.41" height="9.20" fill="#e2e6f3" stroke="none" stroke-width="1" />
<line x1="310.39" y1="339.90" x2="310.39" y2="349.10" stroke="#1e3a6b" stroke-width="0.9" />
<circle cx="297.66" cy="340.50" r="1.4" fill="#e3ebfa" stroke="#2a4a86" stroke-width="0.75" />
<circle cx="297.66" cy="344.50" r="1.4" fill="#e3ebfa" stroke="#2a4a86" stroke-width="0.75" />
<circle cx="297.66" cy="348.50" r="1.4" fill="#e3ebfa" stroke="#2a4a86" stroke-width="0.75" />
<circle cx="302.31" cy="340.50" r="1.4" fill="#e3ebfa" stroke="#2a4a86" stroke-width="0.75" />
<circle cx="310.39" cy="341.50" r="1.4" fill="#e3ebfa" stroke="#2a4a86" stroke-width="0.75" />
<circle cx="310.39" cy="347.50" r="1.4" fill="#e3ebfa" stroke="#2a4a86" stroke-width="0.75" />
<circle cx="318.47" cy="340.50" r="1.4" fill="#e3ebfa" stroke="#2a4a86" stroke-width="0.75" />
<circle cx="318.47" cy="344.50" r="1.4" fill="#e3ebfa" stroke="#2a4a86" stroke-width="0.75" />
<circle cx="318.47" cy="348.50" r="1.4" fill="#e3ebfa" stroke="#2a4a86" stroke-width="0.75" />
<rect x="307.36" y="354.20" width="18.18" height="9.20" fill="#e2e6f3" stroke="none" stroke-width="1" />
<line x1="291.20" y1="358.80" x2="334.83" y2="358.80" stroke="#1e3a6b" stroke-width="0.8" />
<line x1="312.01" y1="354.20" x2="312.01" y2="363.40" stroke="#1e3a6b" stroke-width="0.9" />
<circle cx="300.09" cy="358.80" r="1.05" fill="#1e3a6b" stroke="#1e3a6b" stroke-width="0.75" />
<circle cx="304.13" cy="358.80" r="1.05" fill="#1e3a6b" stroke="#1e3a6b" stroke-width="0.75" />
<circle cx="307.36" cy="358.80" r="1.05" fill="#1e3a6b" stroke="#1e3a6b" stroke-width="0.75" />
<circle cx="312.01" cy="354.80" r="1.05" fill="#1e3a6b" stroke="#1e3a6b" stroke-width="0.75" />
<circle cx="312.01" cy="362.80" r="1.05" fill="#1e3a6b" stroke="#1e3a6b" stroke-width="0.75" />
<circle cx="318.47" cy="358.80" r="1.05" fill="#1e3a6b" stroke="#1e3a6b" stroke-width="0.75" />
<circle cx="322.11" cy="358.80" r="1.05" fill="#1e3a6b" stroke="#1e3a6b" stroke-width="0.75" />
<circle cx="325.54" cy="358.80" r="1.05" fill="#1e3a6b" stroke="#1e3a6b" stroke-width="0.75" />
<path d="M289.65,358.80 L291.20,356.30 L292.75,358.80 L291.20,361.30 Z" fill="#fff" stroke="#1e3a6b" stroke-width="0.7"/>
<path d="M333.28,358.80 L334.83,356.30 L336.38,358.80 L334.83,361.30 Z" fill="#fff" stroke="#1e3a6b" stroke-width="0.7"/>
<line x1="369.98" y1="368.50" x2="369.98" y2="377.70" stroke="#1e3a6b" stroke-width="0.9" />
<path d="M368.43,373.10 L369.98,370.60 L371.53,373.10 L369.98,375.60 Z" fill="#1e3a6b" stroke="#1e3a6b" stroke-width="0.7"/>
<line x1="325.54" y1="382.80" x2="325.54" y2="392.00" stroke="#1e3a6b" stroke-width="0.9" />
<path d="M323.99,387.40 L325.54,384.90 L327.09,387.40 L325.54,389.90 Z" fill="#1e3a6b" stroke="#1e3a6b" stroke-width="0.7"/>
<line x1="316.65" y1="401.70" x2="329.58" y2="401.70" stroke="#1e3a6b" stroke-width="0.8" />
<line x1="320.49" y1="397.10" x2="320.49" y2="406.30" stroke="#1e3a6b" stroke-width="0.9" />
<path d="M315.10,401.70 L316.65,399.20 L318.20,401.70 L316.65,404.20 Z" fill="#1e3a6b" stroke="#1e3a6b" stroke-width="0.7"/>
<path d="M318.94,401.70 L320.49,399.20 L322.04,401.70 L320.49,404.20 Z" fill="#1e3a6b" stroke="#1e3a6b" stroke-width="0.7"/>
<path d="M328.03,401.70 L329.58,399.20 L331.13,401.70 L329.58,404.20 Z" fill="#1e3a6b" stroke="#1e3a6b" stroke-width="0.7"/>
<line x1="72.20" y1="271.50" x2="72.20" y2="413.70" stroke="#222" stroke-width="1.1" />
<line x1="71.70" y1="413.20" x2="166.30" y2="413.20" stroke="#222" stroke-width="1.1" />
<line x1="69.40" y1="287.30" x2="72.20" y2="287.30" stroke="#222" stroke-width="0.8" />
<line x1="69.40" y1="301.60" x2="72.20" y2="301.60" stroke="#222" stroke-width="0.8" />
<line x1="69.40" y1="315.90" x2="72.20" y2="315.90" stroke="#222" stroke-width="0.8" />
<line x1="69.40" y1="330.20" x2="72.20" y2="330.20" stroke="#222" stroke-width="0.8" />
<line x1="69.40" y1="344.50" x2="72.20" y2="344.50" stroke="#222" stroke-width="0.8" />
<line x1="69.40" y1="358.80" x2="72.20" y2="358.80" stroke="#222" stroke-width="0.8" />
<line x1="69.40" y1="373.10" x2="72.20" y2="373.10" stroke="#222" stroke-width="0.8" />
<line x1="69.40" y1="387.40" x2="72.20" y2="387.40" stroke="#222" stroke-width="0.8" />
<line x1="69.40" y1="401.70" x2="72.20" y2="401.70" stroke="#222" stroke-width="0.8" />
<line x1="72.35" y1="413.20" x2="72.35" y2="416.00" stroke="#222" stroke-width="0.8" />
<text x="0.00" y="0.00" dy="0.355em" font-size="8.8" text-anchor="middle" fill="#1c1c1c" font-weight="normal" transform="translate(71.55,422.90) scale(0.9,1)" >&#8722;1</text>
<line x1="87.70" y1="413.20" x2="87.70" y2="416.00" stroke="#222" stroke-width="0.8" />
<text x="0.00" y="0.00" dy="0.355em" font-size="8.8" text-anchor="middle" fill="#1c1c1c" font-weight="normal" transform="translate(87.70,422.90) scale(0.9,1)" >0</text>
<line x1="103.05" y1="413.20" x2="103.05" y2="416.00" stroke="#222" stroke-width="0.8" />
<text x="0.00" y="0.00" dy="0.355em" font-size="8.8" text-anchor="middle" fill="#1c1c1c" font-weight="normal" transform="translate(103.05,422.90) scale(0.9,1)" >1</text>
<line x1="118.40" y1="413.20" x2="118.40" y2="416.00" stroke="#222" stroke-width="0.8" />
<text x="0.00" y="0.00" dy="0.355em" font-size="8.8" text-anchor="middle" fill="#1c1c1c" font-weight="normal" transform="translate(118.40,422.90) scale(0.9,1)" >2</text>
<line x1="133.75" y1="413.20" x2="133.75" y2="416.00" stroke="#222" stroke-width="0.8" />
<text x="0.00" y="0.00" dy="0.355em" font-size="8.8" text-anchor="middle" fill="#1c1c1c" font-weight="normal" transform="translate(133.75,422.90) scale(0.9,1)" >3</text>
<line x1="149.10" y1="413.20" x2="149.10" y2="416.00" stroke="#222" stroke-width="0.8" />
<text x="0.00" y="0.00" dy="0.355em" font-size="8.8" text-anchor="middle" fill="#1c1c1c" font-weight="normal" transform="translate(149.10,422.90) scale(0.9,1)" >4</text>
<line x1="164.45" y1="413.20" x2="164.45" y2="416.00" stroke="#222" stroke-width="0.8" />
<text x="0.00" y="0.00" dy="0.355em" font-size="8.8" text-anchor="middle" fill="#1c1c1c" font-weight="normal" transform="translate(164.45,422.90) scale(0.9,1)" >5</text>
<text transform="translate(118.4,439.4) scale(0.86,1)" font-size="9.5" text-anchor="middle" fill="#1c1c1c">log<tspan font-size="7" dy="1.7">10</tspan><tspan dy="-1.7">IC</tspan><tspan font-size="7" dy="1.7">50</tspan><tspan dy="-1.7">, SM</tspan></text>
<line x1="176.50" y1="271.50" x2="176.50" y2="413.70" stroke="#222" stroke-width="1.1" />
<line x1="176.00" y1="413.20" x2="270.30" y2="413.20" stroke="#222" stroke-width="1.1" />
<line x1="173.70" y1="287.30" x2="176.50" y2="287.30" stroke="#222" stroke-width="0.8" />
<line x1="173.70" y1="301.60" x2="176.50" y2="301.60" stroke="#222" stroke-width="0.8" />
<line x1="173.70" y1="315.90" x2="176.50" y2="315.90" stroke="#222" stroke-width="0.8" />
<line x1="173.70" y1="330.20" x2="176.50" y2="330.20" stroke="#222" stroke-width="0.8" />
<line x1="173.70" y1="344.50" x2="176.50" y2="344.50" stroke="#222" stroke-width="0.8" />
<line x1="173.70" y1="358.80" x2="176.50" y2="358.80" stroke="#222" stroke-width="0.8" />
<line x1="173.70" y1="373.10" x2="176.50" y2="373.10" stroke="#222" stroke-width="0.8" />
<line x1="173.70" y1="387.40" x2="176.50" y2="387.40" stroke="#222" stroke-width="0.8" />
<line x1="173.70" y1="401.70" x2="176.50" y2="401.70" stroke="#222" stroke-width="0.8" />
<line x1="176.50" y1="413.20" x2="176.50" y2="416.00" stroke="#222" stroke-width="0.8" />
<text x="0.00" y="0.00" dy="0.355em" font-size="8.8" text-anchor="middle" fill="#1c1c1c" font-weight="normal" transform="translate(176.50,422.90) scale(0.9,1)" >0</text>
<line x1="194.85" y1="413.20" x2="194.85" y2="416.00" stroke="#222" stroke-width="0.8" />
<text x="0.00" y="0.00" dy="0.355em" font-size="8.8" text-anchor="middle" fill="#1c1c1c" font-weight="normal" transform="translate(194.85,422.90) scale(0.9,1)" >1</text>
<line x1="213.20" y1="413.20" x2="213.20" y2="416.00" stroke="#222" stroke-width="0.8" />
<text x="0.00" y="0.00" dy="0.355em" font-size="8.8" text-anchor="middle" fill="#1c1c1c" font-weight="normal" transform="translate(213.20,422.90) scale(0.9,1)" >2</text>
<line x1="231.55" y1="413.20" x2="231.55" y2="416.00" stroke="#222" stroke-width="0.8" />
<text x="0.00" y="0.00" dy="0.355em" font-size="8.8" text-anchor="middle" fill="#1c1c1c" font-weight="normal" transform="translate(231.55,422.90) scale(0.9,1)" >3</text>
<line x1="249.90" y1="413.20" x2="249.90" y2="416.00" stroke="#222" stroke-width="0.8" />
<text x="0.00" y="0.00" dy="0.355em" font-size="8.8" text-anchor="middle" fill="#1c1c1c" font-weight="normal" transform="translate(249.90,422.90) scale(0.9,1)" >4</text>
<line x1="268.25" y1="413.20" x2="268.25" y2="416.00" stroke="#222" stroke-width="0.8" />
<text x="0.00" y="0.00" dy="0.355em" font-size="8.8" text-anchor="middle" fill="#1c1c1c" font-weight="normal" transform="translate(268.25,422.90) scale(0.9,1)" >5</text>
<text transform="translate(222.7,439.4) scale(0.86,1)" font-size="9.5" text-anchor="middle" fill="#1c1c1c">log<tspan font-size="7" dy="1.7">10</tspan><tspan dy="-1.7">IC</tspan><tspan font-size="7" dy="1.7">50</tspan><tspan dy="-1.7">, Mo</tspan></text>
<line x1="281.00" y1="271.50" x2="281.00" y2="413.70" stroke="#222" stroke-width="1.1" />
<line x1="280.50" y1="413.20" x2="373.80" y2="413.20" stroke="#222" stroke-width="1.1" />
<line x1="278.20" y1="287.30" x2="281.00" y2="287.30" stroke="#222" stroke-width="0.8" />
<line x1="278.20" y1="301.60" x2="281.00" y2="301.60" stroke="#222" stroke-width="0.8" />
<line x1="278.20" y1="315.90" x2="281.00" y2="315.90" stroke="#222" stroke-width="0.8" />
<line x1="278.20" y1="330.20" x2="281.00" y2="330.20" stroke="#222" stroke-width="0.8" />
<line x1="278.20" y1="344.50" x2="281.00" y2="344.50" stroke="#222" stroke-width="0.8" />
<line x1="278.20" y1="358.80" x2="281.00" y2="358.80" stroke="#222" stroke-width="0.8" />
<line x1="278.20" y1="373.10" x2="281.00" y2="373.10" stroke="#222" stroke-width="0.8" />
<line x1="278.20" y1="387.40" x2="281.00" y2="387.40" stroke="#222" stroke-width="0.8" />
<line x1="278.20" y1="401.70" x2="281.00" y2="401.70" stroke="#222" stroke-width="0.8" />
<line x1="281.10" y1="413.20" x2="281.10" y2="416.00" stroke="#222" stroke-width="0.8" />
<text x="0.00" y="0.00" dy="0.355em" font-size="8.8" text-anchor="middle" fill="#1c1c1c" font-weight="normal" transform="translate(280.30,422.90) scale(0.9,1)" >-5</text>
<line x1="291.20" y1="413.20" x2="291.20" y2="416.00" stroke="#222" stroke-width="0.8" />
<text x="0.00" y="0.00" dy="0.355em" font-size="8.8" text-anchor="middle" fill="#1c1c1c" font-weight="normal" transform="translate(291.20,422.90) scale(0.9,1)" >0</text>
<line x1="301.30" y1="413.20" x2="301.30" y2="416.00" stroke="#222" stroke-width="0.8" />
<text x="0.00" y="0.00" dy="0.355em" font-size="8.8" text-anchor="middle" fill="#1c1c1c" font-weight="normal" transform="translate(301.30,422.90) scale(0.9,1)" >5</text>
<line x1="311.40" y1="413.20" x2="311.40" y2="416.00" stroke="#222" stroke-width="0.8" />
<text x="0.00" y="0.00" dy="0.355em" font-size="8.8" text-anchor="middle" fill="#1c1c1c" font-weight="normal" transform="translate(311.40,422.90) scale(0.9,1)" >10</text>
<line x1="321.50" y1="413.20" x2="321.50" y2="416.00" stroke="#222" stroke-width="0.8" />
<text x="0.00" y="0.00" dy="0.355em" font-size="8.8" text-anchor="middle" fill="#1c1c1c" font-weight="normal" transform="translate(321.50,422.90) scale(0.9,1)" >15</text>
<line x1="331.60" y1="413.20" x2="331.60" y2="416.00" stroke="#222" stroke-width="0.8" />
<text x="0.00" y="0.00" dy="0.355em" font-size="8.8" text-anchor="middle" fill="#1c1c1c" font-weight="normal" transform="translate(331.60,422.90) scale(0.9,1)" >20</text>
<line x1="341.70" y1="413.20" x2="341.70" y2="416.00" stroke="#222" stroke-width="0.8" />
<text x="0.00" y="0.00" dy="0.355em" font-size="8.8" text-anchor="middle" fill="#1c1c1c" font-weight="normal" transform="translate(341.70,422.90) scale(0.9,1)" >25</text>
<line x1="351.80" y1="413.20" x2="351.80" y2="416.00" stroke="#222" stroke-width="0.8" />
<text x="0.00" y="0.00" dy="0.355em" font-size="8.8" text-anchor="middle" fill="#1c1c1c" font-weight="normal" transform="translate(351.80,422.90) scale(0.9,1)" >30</text>
<line x1="361.90" y1="413.20" x2="361.90" y2="416.00" stroke="#222" stroke-width="0.8" />
<text x="0.00" y="0.00" dy="0.355em" font-size="8.8" text-anchor="middle" fill="#1c1c1c" font-weight="normal" transform="translate(361.90,422.90) scale(0.9,1)" >35</text>
<line x1="372.00" y1="413.20" x2="372.00" y2="416.00" stroke="#222" stroke-width="0.8" />
<text x="0.00" y="0.00" dy="0.355em" font-size="8.8" text-anchor="middle" fill="#1c1c1c" font-weight="normal" transform="translate(372.00,422.90) scale(0.9,1)" >40</text>
<text x="0.00" y="0.00" dy="0.355em" font-size="9.2" text-anchor="middle" fill="#1c1c1c" font-weight="normal" transform="translate(326.00,436.40) scale(0.79,1)" >Mean ZIP scores</text>
<text x="0.00" y="0.00" dy="0.355em" font-size="9.3" text-anchor="middle" fill="#1c1c1c" font-weight="normal" transform="translate(381.60,344.00) rotate(90) scale(0.835,1)" >BCP-ALL</text>
<text x="0.00" y="0.00" dy="0.355em" font-size="12" text-anchor="start" fill="#000" font-weight="bold" transform="translate(6.80,477.30) scale(0.92,1)" >C</text>
<text x="0.00" y="0.00" dy="0.355em" font-size="8.76" text-anchor="middle" fill="#1c1c1c" font-weight="normal" transform="translate(74.50,476.20) scale(0.92,1)" >hours</text>
<line x1="57.00" y1="483.00" x2="92.50" y2="483.00" stroke="#1a1a1a" stroke-width="0.9" />
<text x="0.00" y="0.00" dy="0.355em" font-size="8.76" text-anchor="middle" fill="#1c1c1c" font-weight="normal" transform="translate(47.20,490.90) scale(0.92,1)" >UNT</text>
<text x="0.00" y="0.00" dy="0.355em" font-size="8.76" text-anchor="middle" fill="#1c1c1c" font-weight="normal" transform="translate(60.80,490.90) scale(0.92,1)" >3</text>
<text x="0.00" y="0.00" dy="0.355em" font-size="8.76" text-anchor="middle" fill="#1c1c1c" font-weight="normal" transform="translate(74.30,490.90) scale(0.92,1)" >6</text>
<text x="0.00" y="0.00" dy="0.355em" font-size="8.76" text-anchor="middle" fill="#1c1c1c" font-weight="normal" transform="translate(87.50,490.90) scale(0.92,1)" >8</text>
<text x="0.00" y="0.00" dy="0.355em" font-size="8.76" text-anchor="start" fill="#1c1c1c" font-weight="normal" transform="translate(100.00,481.30) scale(0.92,1)" >LD4172</text>
<text x="0.00" y="0.00" dy="0.355em" font-size="8.76" text-anchor="start" fill="#1c1c1c" font-weight="normal" transform="translate(100.00,490.90) scale(0.92,1)" >250 nM</text>
<text x="0.00" y="0.00" dy="0.355em" font-size="8.76" text-anchor="middle" fill="#1c1c1c" font-weight="normal" transform="translate(159.50,481.30) scale(0.92,1)" >normalized</text>
<text x="0.00" y="0.00" dy="0.355em" font-size="8.76" text-anchor="middle" fill="#1c1c1c" font-weight="normal" transform="translate(159.50,490.90) scale(0.92,1)" >AUC</text>
<clipPath id="cr0"><rect x="38.1" y="499.6" width="58.300000000000004" height="16.600000000000023"/></clipPath>
<clipPath id="cg0"><rect x="38.1" y="518.4" width="58.300000000000004" height="15.100000000000023"/></clipPath>
<linearGradient id="gr0" x1="0" y1="0" x2="0" y2="1"><stop offset="0" stop-color="#cbcbcb"/><stop offset="1" stop-color="#c4c4c4"/></linearGradient>
<rect x="38.10" y="499.60" width="58.30" height="16.60" fill="url(#gr0)" stroke="#777" stroke-width="0.5" />
<g clip-path="url(#cr0)">
<rect x="38.1" y="499.6" width="58.30" height="16.60" filter="url(#noise)" opacity="0.45"/>
<g filter="url(#blur)">
<ellipse cx="48.30" cy="507.90" rx="5.25" ry="1.70" fill="#141414" fill-opacity="0.81"/>
<ellipse cx="61.20" cy="509.00" rx="4.50" ry="1.40" fill="#141414" fill-opacity="0.38"/>
<ellipse cx="74.20" cy="509.50" rx="4.50" ry="1.20" fill="#141414" fill-opacity="0.05"/>
<ellipse cx="87.60" cy="509.50" rx="4.50" ry="1.20" fill="#141414" fill-opacity="0.03"/>
</g></g>
<linearGradient id="gg0" x1="0" y1="0" x2="0" y2="1"><stop offset="0" stop-color="#e0e0e0"/><stop offset="1" stop-color="#d6d6d6"/></linearGradient>
<rect x="38.10" y="518.40" width="58.30" height="15.10" fill="url(#gg0)" stroke="#777" stroke-width="0.5" />
<g clip-path="url(#cg0)">
<rect x="38.1" y="518.4" width="58.30" height="15.10" filter="url(#noise)" opacity="0.45"/>
<g filter="url(#blur)">
<ellipse cx="48.30" cy="526.40" rx="5.50" ry="1.80" fill="#141414" fill-opacity="0.85"/>
<ellipse cx="61.20" cy="527.60" rx="5.75" ry="1.80" fill="#141414" fill-opacity="0.83"/>
<ellipse cx="74.20" cy="528.20" rx="6.25" ry="1.90" fill="#141414" fill-opacity="0.85"/>
<ellipse cx="87.60" cy="529.30" rx="6.25" ry="1.90" fill="#141414" fill-opacity="0.83"/>
</g></g>
<line x1="35.80" y1="498.20" x2="35.80" y2="535.30" stroke="#222" stroke-width="1.1" />
<line x1="35.30" y1="534.80" x2="158.60" y2="534.80" stroke="#222" stroke-width="1.1" />
<line x1="32.60" y1="508.00" x2="35.80" y2="508.00" stroke="#222" stroke-width="0.8" />
<line x1="32.60" y1="526.30" x2="35.80" y2="526.30" stroke="#222" stroke-width="0.8" />
<text x="0.00" y="0.00" dy="0.355em" font-size="9.0" text-anchor="end" fill="#1c1c1c" font-weight="normal" transform="translate(30.40,508.00) scale(0.95,1)" >100</text>
<text x="0.00" y="0.00" dy="0.355em" font-size="9.0" text-anchor="end" fill="#1c1c1c" font-weight="normal" transform="translate(30.40,526.30) scale(0.98,1)" >40</text>
<text x="0.00" y="0.00" dy="0.355em" font-size="9.0" text-anchor="start" fill="#1c1c1c" font-weight="normal" transform="translate(100.00,508.00) scale(0.82,1)" >RIPK1</text>
<text x="0.00" y="0.00" dy="0.355em" font-size="9.0" text-anchor="start" fill="#1c1c1c" font-weight="normal" transform="translate(100.00,526.50) scale(0.87,1)" >GAPDH</text>
<line x1="156.00" y1="499.40" x2="156.00" y2="535.00" stroke="#222" stroke-width="1.1" />
<line x1="156.00" y1="534.50" x2="158.80" y2="534.50" stroke="#222" stroke-width="0.8" />
<line x1="156.00" y1="530.17" x2="157.80" y2="530.17" stroke="#222" stroke-width="0.8" />
<line x1="156.00" y1="525.85" x2="158.80" y2="525.85" stroke="#222" stroke-width="0.8" />
<line x1="156.00" y1="521.52" x2="157.80" y2="521.52" stroke="#222" stroke-width="0.8" />
<line x1="156.00" y1="517.20" x2="158.80" y2="517.20" stroke="#222" stroke-width="0.8" />
<line x1="156.00" y1="512.88" x2="157.80" y2="512.88" stroke="#222" stroke-width="0.8" />
<line x1="156.00" y1="508.55" x2="158.80" y2="508.55" stroke="#222" stroke-width="0.8" />
<line x1="156.00" y1="504.23" x2="157.80" y2="504.23" stroke="#222" stroke-width="0.8" />
<line x1="156.00" y1="499.90" x2="158.80" y2="499.90" stroke="#222" stroke-width="0.8" />
<text x="0.00" y="0.00" dy="0.355em" font-size="8.12" text-anchor="start" fill="#1c1c1c" font-weight="normal" transform="translate(162.60,534.70) scale(0.92,1)" >0.0</text>
<text x="0.00" y="0.00" dy="0.355em" font-size="8.12" text-anchor="start" fill="#1c1c1c" font-weight="normal" transform="translate(162.60,526.05) scale(0.92,1)" >0.5</text>
<text x="0.00" y="0.00" dy="0.355em" font-size="8.12" text-anchor="start" fill="#1c1c1c" font-weight="normal" transform="translate(162.60,517.40) scale(0.92,1)" >1.0</text>
<text x="0.00" y="0.00" dy="0.355em" font-size="8.12" text-anchor="start" fill="#1c1c1c" font-weight="normal" transform="translate(162.60,508.75) scale(0.92,1)" >1.5</text>
<text x="0.00" y="0.00" dy="0.355em" font-size="8.12" text-anchor="start" fill="#1c1c1c" font-weight="normal" transform="translate(162.60,500.10) scale(0.92,1)" >2.0</text>
<text x="0.00" y="0.00" dy="0.355em" font-size="8.6" text-anchor="middle" fill="#1c1c1c" font-weight="normal" transform="translate(180.00,517.80) rotate(90) scale(0.92,1)" >PID0872</text>
<line x1="131.00" y1="535.10" x2="131.00" y2="537.60" stroke="#222" stroke-width="0.8" />
<line x1="145.80" y1="535.10" x2="145.80" y2="537.60" stroke="#222" stroke-width="0.8" />
<line x1="131.00" y1="521.35" x2="145.80" y2="513.74" stroke="#4b5563" stroke-width="0.8" />
<circle cx="131.00" cy="521.35" r="1.7" fill="#e6e6e6" stroke="#bdbdbd" stroke-width="0.6" />
<circle cx="145.80" cy="513.74" r="1.75" fill="#a9d6f2" stroke="#2f86c6" stroke-width="0.8" />
<clipPath id="cr1"><rect x="38.1" y="541.2" width="58.300000000000004" height="16.799999999999955"/></clipPath>
<clipPath id="cg1"><rect x="38.1" y="560.4" width="58.300000000000004" height="15.800000000000068"/></clipPath>
<linearGradient id="gr1" x1="0" y1="0" x2="0" y2="1"><stop offset="0" stop-color="#c0c0c0"/><stop offset="1" stop-color="#b6b6b6"/></linearGradient>
<rect x="38.10" y="541.20" width="58.30" height="16.80" fill="url(#gr1)" stroke="#777" stroke-width="0.5" />
<g clip-path="url(#cr1)">
<rect x="38.1" y="541.2" width="58.30" height="16.80" filter="url(#noise)" opacity="0.45"/>
<g filter="url(#blur)">
<ellipse cx="48.30" cy="551.00" rx="5.25" ry="1.40" fill="#141414" fill-opacity="0.50"/>
<ellipse cx="61.20" cy="551.20" rx="4.50" ry="1.30" fill="#141414" fill-opacity="0.25"/>
<ellipse cx="74.20" cy="551.60" rx="4.50" ry="1.20" fill="#141414" fill-opacity="0.04"/>
<ellipse cx="87.60" cy="551.60" rx="4.50" ry="1.20" fill="#141414" fill-opacity="0.02"/>
</g></g>
<linearGradient id="gg1" x1="0" y1="0" x2="0" y2="1"><stop offset="0" stop-color="#d6d6d6"/><stop offset="1" stop-color="#c8c8c8"/></linearGradient>
<rect x="38.10" y="560.40" width="58.30" height="15.80" fill="url(#gg1)" stroke="#777" stroke-width="0.5" />
<g clip-path="url(#cg1)">
<rect x="38.1" y="560.4" width="58.30" height="15.80" filter="url(#noise)" opacity="0.45"/>
<g filter="url(#blur)">
<ellipse cx="48.30" cy="568.77" rx="6.00" ry="2.00" fill="#141414" fill-opacity="0.83"/>
<ellipse cx="61.20" cy="568.97" rx="6.25" ry="2.20" fill="#141414" fill-opacity="0.85"/>
<ellipse cx="74.20" cy="570.17" rx="6.00" ry="2.10" fill="#141414" fill-opacity="0.85"/>
<ellipse cx="87.60" cy="571.37" rx="6.00" ry="2.10" fill="#141414" fill-opacity="0.85"/>
</g></g>
<line x1="35.80" y1="540.00" x2="35.80" y2="577.80" stroke="#222" stroke-width="1.1" />
<line x1="35.30" y1="577.30" x2="158.60" y2="577.30" stroke="#222" stroke-width="1.1" />
<line x1="32.60" y1="550.00" x2="35.80" y2="550.00" stroke="#222" stroke-width="0.8" />
<line x1="32.60" y1="568.50" x2="35.80" y2="568.50" stroke="#222" stroke-width="0.8" />
<text x="0.00" y="0.00" dy="0.355em" font-size="9.0" text-anchor="end" fill="#1c1c1c" font-weight="normal" transform="translate(30.40,550.00) scale(0.95,1)" >100</text>
<text x="0.00" y="0.00" dy="0.355em" font-size="9.0" text-anchor="end" fill="#1c1c1c" font-weight="normal" transform="translate(30.40,568.50) scale(0.98,1)" >40</text>
<text x="0.00" y="0.00" dy="0.355em" font-size="9.0" text-anchor="start" fill="#1c1c1c" font-weight="normal" transform="translate(100.00,550.00) scale(0.82,1)" >RIPK1</text>
<text x="0.00" y="0.00" dy="0.355em" font-size="9.0" text-anchor="start" fill="#1c1c1c" font-weight="normal" transform="translate(100.00,568.70) scale(0.87,1)" >GAPDH</text>
<line x1="156.00" y1="541.90" x2="156.00" y2="577.50" stroke="#222" stroke-width="1.1" />
<line x1="156.00" y1="577.00" x2="158.80" y2="577.00" stroke="#222" stroke-width="0.8" />
<line x1="156.00" y1="572.67" x2="157.80" y2="572.67" stroke="#222" stroke-width="0.8" />
<line x1="156.00" y1="568.35" x2="158.80" y2="568.35" stroke="#222" stroke-width="0.8" />
<line x1="156.00" y1="564.02" x2="157.80" y2="564.02" stroke="#222" stroke-width="0.8" />
<line x1="156.00" y1="559.70" x2="158.80" y2="559.70" stroke="#222" stroke-width="0.8" />
<line x1="156.00" y1="555.38" x2="157.80" y2="555.38" stroke="#222" stroke-width="0.8" />
<line x1="156.00" y1="551.05" x2="158.80" y2="551.05" stroke="#222" stroke-width="0.8" />
<line x1="156.00" y1="546.73" x2="157.80" y2="546.73" stroke="#222" stroke-width="0.8" />
<line x1="156.00" y1="542.40" x2="158.80" y2="542.40" stroke="#222" stroke-width="0.8" />
<text x="0.00" y="0.00" dy="0.355em" font-size="8.12" text-anchor="start" fill="#1c1c1c" font-weight="normal" transform="translate(162.60,577.20) scale(0.92,1)" >0.0</text>
<text x="0.00" y="0.00" dy="0.355em" font-size="8.12" text-anchor="start" fill="#1c1c1c" font-weight="normal" transform="translate(162.60,568.55) scale(0.92,1)" >0.5</text>
<text x="0.00" y="0.00" dy="0.355em" font-size="8.12" text-anchor="start" fill="#1c1c1c" font-weight="normal" transform="translate(162.60,559.90) scale(0.92,1)" >1.0</text>
<text x="0.00" y="0.00" dy="0.355em" font-size="8.12" text-anchor="start" fill="#1c1c1c" font-weight="normal" transform="translate(162.60,551.25) scale(0.92,1)" >1.5</text>
<text x="0.00" y="0.00" dy="0.355em" font-size="8.12" text-anchor="start" fill="#1c1c1c" font-weight="normal" transform="translate(162.60,542.60) scale(0.92,1)" >2.0</text>
<text x="0.00" y="0.00" dy="0.355em" font-size="8.6" text-anchor="middle" fill="#1c1c1c" font-weight="normal" transform="translate(180.00,560.30) rotate(90) scale(0.92,1)" >PID0083</text>
<line x1="131.00" y1="577.60" x2="131.00" y2="580.10" stroke="#222" stroke-width="0.8" />
<line x1="145.80" y1="577.60" x2="145.80" y2="580.10" stroke="#222" stroke-width="0.8" />
<line x1="131.00" y1="573.02" x2="145.80" y2="557.28" stroke="#4b5563" stroke-width="0.8" />
<circle cx="131.00" cy="573.02" r="1.7" fill="#e6e6e6" stroke="#bdbdbd" stroke-width="0.6" />
<circle cx="145.80" cy="557.28" r="1.75" fill="#a9d6f2" stroke="#2f86c6" stroke-width="0.8" />
<clipPath id="cr2"><rect x="38.1" y="584.5" width="58.300000000000004" height="16.899999999999977"/></clipPath>
<clipPath id="cg2"><rect x="38.1" y="604.2" width="58.300000000000004" height="15.299999999999955"/></clipPath>
<linearGradient id="gr2" x1="0" y1="0" x2="0" y2="1"><stop offset="0" stop-color="#bfbfbf"/><stop offset="1" stop-color="#b4b4b4"/></linearGradient>
<rect x="38.10" y="584.50" width="58.30" height="16.90" fill="url(#gr2)" stroke="#777" stroke-width="0.5" />
<g clip-path="url(#cr2)">
<rect x="38.1" y="584.5" width="58.30" height="16.90" filter="url(#noise)" opacity="0.45"/>
<g filter="url(#blur)">
<ellipse cx="48.30" cy="593.25" rx="5.00" ry="1.90" fill="#141414" fill-opacity="0.90"/>
<ellipse cx="61.20" cy="592.95" rx="4.50" ry="1.40" fill="#141414" fill-opacity="0.32"/>
<ellipse cx="74.20" cy="592.95" rx="4.50" ry="1.20" fill="#141414" fill-opacity="0.09"/>
<ellipse cx="87.60" cy="592.95" rx="4.50" ry="1.20" fill="#141414" fill-opacity="0.05"/>
</g></g>
<linearGradient id="gg2" x1="0" y1="0" x2="0" y2="1"><stop offset="0" stop-color="#d8d8d8"/><stop offset="1" stop-color="#cccccc"/></linearGradient>
<rect x="38.10" y="604.20" width="58.30" height="15.30" fill="url(#gg2)" stroke="#777" stroke-width="0.5" />
<g clip-path="url(#cg2)">
<rect x="38.1" y="604.2" width="58.30" height="15.30" filter="url(#noise)" opacity="0.45"/>
<g filter="url(#blur)">
<ellipse cx="48.30" cy="613.51" rx="6.50" ry="2.30" fill="#141414" fill-opacity="0.90"/>
<ellipse cx="61.20" cy="613.31" rx="6.25" ry="2.20" fill="#141414" fill-opacity="0.90"/>
<ellipse cx="74.20" cy="611.91" rx="6.25" ry="2.20" fill="#141414" fill-opacity="0.90"/>
<ellipse cx="87.60" cy="612.61" rx="6.25" ry="2.20" fill="#141414" fill-opacity="0.90"/>
</g></g>
<line x1="35.80" y1="583.00" x2="35.80" y2="620.80" stroke="#222" stroke-width="1.1" />
<line x1="35.30" y1="620.30" x2="158.60" y2="620.30" stroke="#222" stroke-width="1.1" />
<line x1="32.60" y1="593.00" x2="35.80" y2="593.00" stroke="#222" stroke-width="0.8" />
<line x1="32.60" y1="611.50" x2="35.80" y2="611.50" stroke="#222" stroke-width="0.8" />
<text x="0.00" y="0.00" dy="0.355em" font-size="9.0" text-anchor="end" fill="#1c1c1c" font-weight="normal" transform="translate(30.40,593.00) scale(0.95,1)" >100</text>
<text x="0.00" y="0.00" dy="0.355em" font-size="9.0" text-anchor="end" fill="#1c1c1c" font-weight="normal" transform="translate(30.40,611.50) scale(0.98,1)" >40</text>
<text x="0.00" y="0.00" dy="0.355em" font-size="9.0" text-anchor="start" fill="#1c1c1c" font-weight="normal" transform="translate(100.00,593.00) scale(0.82,1)" >RIPK1</text>
<text x="0.00" y="0.00" dy="0.355em" font-size="9.0" text-anchor="start" fill="#1c1c1c" font-weight="normal" transform="translate(100.00,611.70) scale(0.87,1)" >GAPDH</text>
<line x1="156.00" y1="584.90" x2="156.00" y2="620.50" stroke="#222" stroke-width="1.1" />
<line x1="156.00" y1="620.00" x2="158.80" y2="620.00" stroke="#222" stroke-width="0.8" />
<line x1="156.00" y1="615.67" x2="157.80" y2="615.67" stroke="#222" stroke-width="0.8" />
<line x1="156.00" y1="611.35" x2="158.80" y2="611.35" stroke="#222" stroke-width="0.8" />
<line x1="156.00" y1="607.02" x2="157.80" y2="607.02" stroke="#222" stroke-width="0.8" />
<line x1="156.00" y1="602.70" x2="158.80" y2="602.70" stroke="#222" stroke-width="0.8" />
<line x1="156.00" y1="598.38" x2="157.80" y2="598.38" stroke="#222" stroke-width="0.8" />
<line x1="156.00" y1="594.05" x2="158.80" y2="594.05" stroke="#222" stroke-width="0.8" />
<line x1="156.00" y1="589.73" x2="157.80" y2="589.73" stroke="#222" stroke-width="0.8" />
<line x1="156.00" y1="585.40" x2="158.80" y2="585.40" stroke="#222" stroke-width="0.8" />
<text x="0.00" y="0.00" dy="0.355em" font-size="8.12" text-anchor="start" fill="#1c1c1c" font-weight="normal" transform="translate(162.60,620.20) scale(0.92,1)" >0.0</text>
<text x="0.00" y="0.00" dy="0.355em" font-size="8.12" text-anchor="start" fill="#1c1c1c" font-weight="normal" transform="translate(162.60,611.55) scale(0.92,1)" >0.5</text>
<text x="0.00" y="0.00" dy="0.355em" font-size="8.12" text-anchor="start" fill="#1c1c1c" font-weight="normal" transform="translate(162.60,602.90) scale(0.92,1)" >1.0</text>
<text x="0.00" y="0.00" dy="0.355em" font-size="8.12" text-anchor="start" fill="#1c1c1c" font-weight="normal" transform="translate(162.60,594.25) scale(0.92,1)" >1.5</text>
<text x="0.00" y="0.00" dy="0.355em" font-size="8.12" text-anchor="start" fill="#1c1c1c" font-weight="normal" transform="translate(162.60,585.60) scale(0.92,1)" >2.0</text>
<text x="0.00" y="0.00" dy="0.355em" font-size="8.6" text-anchor="middle" fill="#1c1c1c" font-weight="normal" transform="translate(180.00,603.30) rotate(90) scale(0.92,1)" >PID0117</text>
<line x1="131.00" y1="620.60" x2="131.00" y2="623.10" stroke="#222" stroke-width="0.8" />
<line x1="145.80" y1="620.60" x2="145.80" y2="623.10" stroke="#222" stroke-width="0.8" />
<line x1="131.00" y1="613.77" x2="145.80" y2="603.22" stroke="#4b5563" stroke-width="0.8" />
<circle cx="131.00" cy="613.77" r="1.7" fill="#e6e6e6" stroke="#bdbdbd" stroke-width="0.6" />
<circle cx="145.80" cy="603.22" r="1.75" fill="#a9d6f2" stroke="#2f86c6" stroke-width="0.8" />
<clipPath id="cr3"><rect x="38.1" y="629.2" width="58.300000000000004" height="15.399999999999977"/></clipPath>
<clipPath id="cg3"><rect x="38.1" y="647.3" width="58.300000000000004" height="14.400000000000091"/></clipPath>
<linearGradient id="gr3" x1="0" y1="0" x2="0" y2="1"><stop offset="0" stop-color="#cdcdcd"/><stop offset="1" stop-color="#c6c6c6"/></linearGradient>
<rect x="38.10" y="629.20" width="58.30" height="15.40" fill="url(#gr3)" stroke="#777" stroke-width="0.5" />
<g clip-path="url(#cr3)">
<rect x="38.1" y="629.2" width="58.30" height="15.40" filter="url(#noise)" opacity="0.45"/>
<g filter="url(#blur)">
<ellipse cx="48.30" cy="637.20" rx="5.25" ry="1.60" fill="#141414" fill-opacity="0.77"/>
<ellipse cx="61.20" cy="637.80" rx="5.00" ry="1.40" fill="#141414" fill-opacity="0.31"/>
<ellipse cx="74.20" cy="638.20" rx="4.50" ry="1.20" fill="#141414" fill-opacity="0.05"/>
<ellipse cx="87.60" cy="638.20" rx="4.50" ry="1.20" fill="#141414" fill-opacity="0.02"/>
</g></g>
<linearGradient id="gg3" x1="0" y1="0" x2="0" y2="1"><stop offset="0" stop-color="#cdcdcd"/><stop offset="1" stop-color="#bbbbbb"/></linearGradient>
<rect x="38.10" y="647.30" width="58.30" height="14.40" fill="url(#gg3)" stroke="#777" stroke-width="0.5" />
<g clip-path="url(#cg3)">
<rect x="38.1" y="647.3" width="58.30" height="14.40" filter="url(#noise)" opacity="0.45"/>
<g filter="url(#blur)">
<ellipse cx="48.30" cy="654.03" rx="6.00" ry="1.70" fill="#141414" fill-opacity="0.81"/>
<ellipse cx="61.20" cy="655.23" rx="6.25" ry="1.90" fill="#141414" fill-opacity="0.85"/>
<ellipse cx="74.20" cy="655.83" rx="6.00" ry="1.90" fill="#141414" fill-opacity="0.85"/>
<ellipse cx="87.60" cy="655.03" rx="5.75" ry="1.80" fill="#141414" fill-opacity="0.81"/>
</g></g>
<line x1="35.80" y1="626.50" x2="35.80" y2="663.20" stroke="#222" stroke-width="1.1" />
<line x1="35.30" y1="662.70" x2="158.60" y2="662.70" stroke="#222" stroke-width="1.1" />
<line x1="32.60" y1="638.00" x2="35.80" y2="638.00" stroke="#222" stroke-width="0.8" />
<line x1="32.60" y1="655.40" x2="35.80" y2="655.40" stroke="#222" stroke-width="0.8" />
<text x="0.00" y="0.00" dy="0.355em" font-size="9.0" text-anchor="end" fill="#1c1c1c" font-weight="normal" transform="translate(30.40,638.00) scale(0.95,1)" >100</text>
<text x="0.00" y="0.00" dy="0.355em" font-size="9.0" text-anchor="end" fill="#1c1c1c" font-weight="normal" transform="translate(30.40,655.40) scale(0.98,1)" >40</text>
<text x="0.00" y="0.00" dy="0.355em" font-size="9.0" text-anchor="start" fill="#1c1c1c" font-weight="normal" transform="translate(100.00,638.00) scale(0.82,1)" >RIPK1</text>
<text x="0.00" y="0.00" dy="0.355em" font-size="9.0" text-anchor="start" fill="#1c1c1c" font-weight="normal" transform="translate(100.00,655.60) scale(0.87,1)" >GAPDH</text>
<line x1="156.00" y1="627.30" x2="156.00" y2="662.90" stroke="#222" stroke-width="1.1" />
<line x1="156.00" y1="662.40" x2="158.80" y2="662.40" stroke="#222" stroke-width="0.8" />
<line x1="156.00" y1="658.08" x2="157.80" y2="658.08" stroke="#222" stroke-width="0.8" />
<line x1="156.00" y1="653.75" x2="158.80" y2="653.75" stroke="#222" stroke-width="0.8" />
<line x1="156.00" y1="649.43" x2="157.80" y2="649.43" stroke="#222" stroke-width="0.8" />
<line x1="156.00" y1="645.10" x2="158.80" y2="645.10" stroke="#222" stroke-width="0.8" />
<line x1="156.00" y1="640.78" x2="157.80" y2="640.78" stroke="#222" stroke-width="0.8" />
<line x1="156.00" y1="636.45" x2="158.80" y2="636.45" stroke="#222" stroke-width="0.8" />
<line x1="156.00" y1="632.13" x2="157.80" y2="632.13" stroke="#222" stroke-width="0.8" />
<line x1="156.00" y1="627.80" x2="158.80" y2="627.80" stroke="#222" stroke-width="0.8" />
<text x="0.00" y="0.00" dy="0.355em" font-size="8.12" text-anchor="start" fill="#1c1c1c" font-weight="normal" transform="translate(162.60,662.60) scale(0.92,1)" >0.0</text>
<text x="0.00" y="0.00" dy="0.355em" font-size="8.12" text-anchor="start" fill="#1c1c1c" font-weight="normal" transform="translate(162.60,653.95) scale(0.92,1)" >0.5</text>
<text x="0.00" y="0.00" dy="0.355em" font-size="8.12" text-anchor="start" fill="#1c1c1c" font-weight="normal" transform="translate(162.60,645.30) scale(0.92,1)" >1.0</text>
<text x="0.00" y="0.00" dy="0.355em" font-size="8.12" text-anchor="start" fill="#1c1c1c" font-weight="normal" transform="translate(162.60,636.65) scale(0.92,1)" >1.5</text>
<text x="0.00" y="0.00" dy="0.355em" font-size="8.12" text-anchor="start" fill="#1c1c1c" font-weight="normal" transform="translate(162.60,628.00) scale(0.92,1)" >2.0</text>
<text x="0.00" y="0.00" dy="0.355em" font-size="8.6" text-anchor="middle" fill="#1c1c1c" font-weight="normal" transform="translate(180.00,645.70) rotate(90) scale(0.92,1)" >PID0852</text>
<line x1="131.00" y1="663.00" x2="131.00" y2="665.50" stroke="#222" stroke-width="0.8" />
<line x1="145.80" y1="663.00" x2="145.80" y2="665.50" stroke="#222" stroke-width="0.8" />
<line x1="131.00" y1="650.12" x2="145.80" y2="639.05" stroke="#4b5563" stroke-width="0.8" />
<circle cx="131.00" cy="650.12" r="1.7" fill="#e6e6e6" stroke="#bdbdbd" stroke-width="0.6" />
<circle cx="145.80" cy="639.05" r="1.75" fill="#a9d6f2" stroke="#2f86c6" stroke-width="0.8" />
<clipPath id="cr4"><rect x="38.1" y="669.8" width="58.300000000000004" height="15.800000000000068"/></clipPath>
<clipPath id="cg4"><rect x="38.1" y="688.0" width="58.300000000000004" height="14.899999999999977"/></clipPath>
<linearGradient id="gr4" x1="0" y1="0" x2="0" y2="1"><stop offset="0" stop-color="#b9b9b9"/><stop offset="1" stop-color="#adadad"/></linearGradient>
<rect x="38.10" y="669.80" width="58.30" height="15.80" fill="url(#gr4)" stroke="#777" stroke-width="0.5" />
<g clip-path="url(#cr4)">
<rect x="38.1" y="669.8" width="58.30" height="15.80" filter="url(#noise)" opacity="0.45"/>
<g filter="url(#blur)">
<ellipse cx="48.30" cy="677.70" rx="5.25" ry="2.60" fill="#141414" fill-opacity="0.90"/>
<ellipse cx="61.20" cy="678.60" rx="4.75" ry="1.70" fill="#141414" fill-opacity="0.56"/>
<ellipse cx="74.20" cy="678.90" rx="4.50" ry="1.40" fill="#141414" fill-opacity="0.14"/>
<ellipse cx="87.60" cy="678.90" rx="4.50" ry="1.40" fill="#141414" fill-opacity="0.12"/>
</g></g>
<linearGradient id="gg4" x1="0" y1="0" x2="0" y2="1"><stop offset="0" stop-color="#d0d0d0"/><stop offset="1" stop-color="#b8b8b8"/></linearGradient>
<rect x="38.10" y="688.00" width="58.30" height="14.90" fill="url(#gg4)" stroke="#777" stroke-width="0.5" />
<g clip-path="url(#cg4)">
<rect x="38.1" y="688.0" width="58.30" height="14.90" filter="url(#noise)" opacity="0.45"/>
<g filter="url(#blur)">
<ellipse cx="48.30" cy="695.00" rx="6.25" ry="1.90" fill="#141414" fill-opacity="0.85"/>
<ellipse cx="61.20" cy="696.50" rx="6.25" ry="1.80" fill="#141414" fill-opacity="0.81"/>
<ellipse cx="74.20" cy="696.60" rx="6.25" ry="1.80" fill="#141414" fill-opacity="0.81"/>
<ellipse cx="87.60" cy="695.60" rx="6.25" ry="1.90" fill="#141414" fill-opacity="0.83"/>
</g></g>
<line x1="35.80" y1="667.00" x2="35.80" y2="704.00" stroke="#222" stroke-width="1.1" />
<line x1="35.30" y1="703.50" x2="158.60" y2="703.50" stroke="#222" stroke-width="1.1" />
<line x1="32.60" y1="677.70" x2="35.80" y2="677.70" stroke="#222" stroke-width="0.8" />
<line x1="32.60" y1="695.80" x2="35.80" y2="695.80" stroke="#222" stroke-width="0.8" />
<text x="0.00" y="0.00" dy="0.355em" font-size="9.0" text-anchor="end" fill="#1c1c1c" font-weight="normal" transform="translate(30.40,677.70) scale(0.95,1)" >100</text>
<text x="0.00" y="0.00" dy="0.355em" font-size="9.0" text-anchor="end" fill="#1c1c1c" font-weight="normal" transform="translate(30.40,695.80) scale(0.98,1)" >40</text>
<text x="0.00" y="0.00" dy="0.355em" font-size="9.0" text-anchor="start" fill="#1c1c1c" font-weight="normal" transform="translate(100.00,677.70) scale(0.82,1)" >RIPK1</text>
<text x="0.00" y="0.00" dy="0.355em" font-size="9.0" text-anchor="start" fill="#1c1c1c" font-weight="normal" transform="translate(100.00,696.00) scale(0.87,1)" >GAPDH</text>
<line x1="156.00" y1="668.10" x2="156.00" y2="703.70" stroke="#222" stroke-width="1.1" />
<line x1="156.00" y1="703.20" x2="158.80" y2="703.20" stroke="#222" stroke-width="0.8" />
<line x1="156.00" y1="698.88" x2="157.80" y2="698.88" stroke="#222" stroke-width="0.8" />
<line x1="156.00" y1="694.55" x2="158.80" y2="694.55" stroke="#222" stroke-width="0.8" />
<line x1="156.00" y1="690.23" x2="157.80" y2="690.23" stroke="#222" stroke-width="0.8" />
<line x1="156.00" y1="685.90" x2="158.80" y2="685.90" stroke="#222" stroke-width="0.8" />
<line x1="156.00" y1="681.58" x2="157.80" y2="681.58" stroke="#222" stroke-width="0.8" />
<line x1="156.00" y1="677.25" x2="158.80" y2="677.25" stroke="#222" stroke-width="0.8" />
<line x1="156.00" y1="672.93" x2="157.80" y2="672.93" stroke="#222" stroke-width="0.8" />
<line x1="156.00" y1="668.60" x2="158.80" y2="668.60" stroke="#222" stroke-width="0.8" />
<text x="0.00" y="0.00" dy="0.355em" font-size="8.12" text-anchor="start" fill="#1c1c1c" font-weight="normal" transform="translate(162.60,703.40) scale(0.92,1)" >0.0</text>
<text x="0.00" y="0.00" dy="0.355em" font-size="8.12" text-anchor="start" fill="#1c1c1c" font-weight="normal" transform="translate(162.60,694.75) scale(0.92,1)" >0.5</text>
<text x="0.00" y="0.00" dy="0.355em" font-size="8.12" text-anchor="start" fill="#1c1c1c" font-weight="normal" transform="translate(162.60,686.10) scale(0.92,1)" >1.0</text>
<text x="0.00" y="0.00" dy="0.355em" font-size="8.12" text-anchor="start" fill="#1c1c1c" font-weight="normal" transform="translate(162.60,677.45) scale(0.92,1)" >1.5</text>
<text x="0.00" y="0.00" dy="0.355em" font-size="8.12" text-anchor="start" fill="#1c1c1c" font-weight="normal" transform="translate(162.60,668.80) scale(0.92,1)" >2.0</text>
<text x="0.00" y="0.00" dy="0.355em" font-size="8.6" text-anchor="middle" fill="#1c1c1c" font-weight="normal" transform="translate(180.00,686.50) rotate(90) scale(0.92,1)" >PID0858</text>
<line x1="131.00" y1="703.80" x2="131.00" y2="706.30" stroke="#222" stroke-width="0.8" />
<line x1="145.80" y1="703.80" x2="145.80" y2="706.30" stroke="#222" stroke-width="0.8" />
<line x1="131.00" y1="701.47" x2="145.80" y2="676.21" stroke="#4b5563" stroke-width="0.8" />
<circle cx="131.00" cy="701.47" r="1.7" fill="#e6e6e6" stroke="#bdbdbd" stroke-width="0.6" />
<circle cx="145.80" cy="676.21" r="1.75" fill="#a9d6f2" stroke="#2f86c6" stroke-width="0.8" />
<text x="0.00" y="0.00" dy="0.355em" font-size="6.96" text-anchor="start" fill="#1c1c1c" font-weight="normal" transform="translate(127.00,714.20) scale(0.92,1)" >SM</text>
<text x="0.00" y="0.00" dy="0.355em" font-size="6.96" text-anchor="start" fill="#1c1c1c" font-weight="normal" transform="translate(139.80,714.20) scale(0.92,1)" >+LD4172</text>
<text x="0.00" y="0.00" dy="0.355em" font-size="12" text-anchor="start" fill="#000" font-weight="bold" transform="translate(201.40,486.30) scale(0.92,1)" >D</text>
<line x1="227.70" y1="619.43" x2="294.60" y2="619.43" stroke="#9a9a9a" stroke-width="0.7" />
<line x1="227.70" y1="636.20" x2="294.60" y2="636.20" stroke="#555" stroke-width="1.3" />
<line x1="245.70" y1="506.03" x2="276.90" y2="636.07" stroke="#8c8c8c" stroke-width="0.65" />
<line x1="245.70" y1="583.48" x2="276.90" y2="614.39" stroke="#8c8c8c" stroke-width="0.65" />
<line x1="245.70" y1="588.59" x2="276.90" y2="617.10" stroke="#8c8c8c" stroke-width="0.65" />
<line x1="245.70" y1="575.81" x2="276.90" y2="617.10" stroke="#8c8c8c" stroke-width="0.65" />
<line x1="245.70" y1="586.03" x2="276.90" y2="617.10" stroke="#8c8c8c" stroke-width="0.65" />
<line x1="245.70" y1="591.15" x2="276.90" y2="619.81" stroke="#8c8c8c" stroke-width="0.65" />
<line x1="245.70" y1="593.70" x2="276.90" y2="622.52" stroke="#8c8c8c" stroke-width="0.65" />
<line x1="245.70" y1="601.37" x2="276.90" y2="625.23" stroke="#8c8c8c" stroke-width="0.65" />
<line x1="245.70" y1="598.82" x2="276.90" y2="627.94" stroke="#8c8c8c" stroke-width="0.65" />
<line x1="245.70" y1="578.37" x2="276.90" y2="630.65" stroke="#8c8c8c" stroke-width="0.65" />
<line x1="245.70" y1="611.60" x2="276.90" y2="630.65" stroke="#8c8c8c" stroke-width="0.65" />
<line x1="245.70" y1="596.26" x2="276.90" y2="633.36" stroke="#8c8c8c" stroke-width="0.65" />
<line x1="245.70" y1="588.59" x2="276.90" y2="636.07" stroke="#8c8c8c" stroke-width="0.65" />
<line x1="245.70" y1="606.48" x2="276.90" y2="638.78" stroke="#8c8c8c" stroke-width="0.65" />
<line x1="245.70" y1="591.15" x2="276.90" y2="641.49" stroke="#8c8c8c" stroke-width="0.65" />
<line x1="245.70" y1="588.59" x2="276.90" y2="644.20" stroke="#8c8c8c" stroke-width="0.65" />
<line x1="245.70" y1="580.92" x2="276.90" y2="646.91" stroke="#8c8c8c" stroke-width="0.65" />
<line x1="245.70" y1="619.27" x2="276.90" y2="649.62" stroke="#8c8c8c" stroke-width="0.65" />
<line x1="245.70" y1="614.15" x2="276.90" y2="652.33" stroke="#8c8c8c" stroke-width="0.65" />
<line x1="245.70" y1="611.60" x2="276.90" y2="652.33" stroke="#8c8c8c" stroke-width="0.65" />
<line x1="245.70" y1="611.60" x2="276.90" y2="655.04" stroke="#8c8c8c" stroke-width="0.65" />
<line x1="245.70" y1="624.38" x2="276.90" y2="657.75" stroke="#8c8c8c" stroke-width="0.65" />
<line x1="245.70" y1="603.93" x2="276.90" y2="657.75" stroke="#8c8c8c" stroke-width="0.65" />
<line x1="245.70" y1="621.82" x2="276.90" y2="660.46" stroke="#8c8c8c" stroke-width="0.65" />
<line x1="245.70" y1="616.71" x2="276.90" y2="663.17" stroke="#8c8c8c" stroke-width="0.65" />
<line x1="245.70" y1="616.71" x2="276.90" y2="665.88" stroke="#8c8c8c" stroke-width="0.65" />
<line x1="245.70" y1="614.15" x2="276.90" y2="665.88" stroke="#8c8c8c" stroke-width="0.65" />
<line x1="245.70" y1="611.60" x2="276.90" y2="665.88" stroke="#8c8c8c" stroke-width="0.65" />
<line x1="245.70" y1="619.27" x2="276.90" y2="665.88" stroke="#8c8c8c" stroke-width="0.65" />
<line x1="245.70" y1="638.21" x2="276.90" y2="668.59" stroke="#8c8c8c" stroke-width="0.65" />
<line x1="245.70" y1="609.04" x2="276.90" y2="668.59" stroke="#8c8c8c" stroke-width="0.65" />
<line x1="245.70" y1="616.71" x2="276.90" y2="671.30" stroke="#8c8c8c" stroke-width="0.65" />
<line x1="245.70" y1="626.93" x2="276.90" y2="674.01" stroke="#8c8c8c" stroke-width="0.65" />
<line x1="245.70" y1="626.93" x2="276.90" y2="676.72" stroke="#8c8c8c" stroke-width="0.65" />
<line x1="245.70" y1="624.38" x2="276.90" y2="679.43" stroke="#8c8c8c" stroke-width="0.65" />
<line x1="245.70" y1="647.27" x2="276.90" y2="682.14" stroke="#8c8c8c" stroke-width="0.65" />
<line x1="245.70" y1="629.49" x2="276.90" y2="684.85" stroke="#8c8c8c" stroke-width="0.65" />
<line x1="245.70" y1="621.82" x2="276.90" y2="684.85" stroke="#8c8c8c" stroke-width="0.65" />
<line x1="245.70" y1="647.27" x2="276.90" y2="668.59" stroke="#8c8c8c" stroke-width="0.65" />
<line x1="245.70" y1="578.37" x2="276.90" y2="602.65" stroke="#8c8c8c" stroke-width="0.65" />
<line x1="245.70" y1="588.59" x2="276.90" y2="602.65" stroke="#8c8c8c" stroke-width="0.65" />
<circle cx="245.70" cy="506.03" r="2.55" fill="#a5d79d" stroke="#74bf6d" stroke-width="0.9" />
<circle cx="245.70" cy="575.81" r="2.55" fill="#a5d79d" stroke="#74bf6d" stroke-width="0.9" />
<circle cx="245.70" cy="578.37" r="2.55" fill="#a5d79d" stroke="#74bf6d" stroke-width="0.9" />
<circle cx="245.70" cy="580.92" r="2.55" fill="#a5d79d" stroke="#74bf6d" stroke-width="0.9" />
<circle cx="245.70" cy="583.48" r="2.55" fill="#a5d79d" stroke="#74bf6d" stroke-width="0.9" />
<circle cx="245.70" cy="586.03" r="2.55" fill="#a5d79d" stroke="#74bf6d" stroke-width="0.9" />
<circle cx="245.70" cy="588.59" r="2.55" fill="#a5d79d" stroke="#74bf6d" stroke-width="0.9" />
<circle cx="245.70" cy="591.15" r="2.55" fill="#a5d79d" stroke="#74bf6d" stroke-width="0.9" />
<circle cx="245.70" cy="593.70" r="2.55" fill="#a5d79d" stroke="#74bf6d" stroke-width="0.9" />
<circle cx="245.70" cy="596.26" r="2.55" fill="#a5d79d" stroke="#74bf6d" stroke-width="0.9" />
<circle cx="245.70" cy="598.82" r="2.55" fill="#a5d79d" stroke="#74bf6d" stroke-width="0.9" />
<circle cx="245.70" cy="601.37" r="2.55" fill="#a5d79d" stroke="#74bf6d" stroke-width="0.9" />
<circle cx="245.70" cy="603.93" r="2.55" fill="#a5d79d" stroke="#74bf6d" stroke-width="0.9" />
<circle cx="245.70" cy="606.48" r="2.55" fill="#a5d79d" stroke="#74bf6d" stroke-width="0.9" />
<circle cx="245.70" cy="609.04" r="2.55" fill="#a5d79d" stroke="#74bf6d" stroke-width="0.9" />
<circle cx="245.70" cy="611.60" r="2.55" fill="#a5d79d" stroke="#74bf6d" stroke-width="0.9" />
<circle cx="245.70" cy="614.15" r="2.55" fill="#a5d79d" stroke="#74bf6d" stroke-width="0.9" />
<circle cx="245.70" cy="616.71" r="2.55" fill="#a5d79d" stroke="#74bf6d" stroke-width="0.9" />
<circle cx="245.70" cy="619.27" r="2.55" fill="#a5d79d" stroke="#74bf6d" stroke-width="0.9" />
<circle cx="245.70" cy="621.82" r="2.55" fill="#a5d79d" stroke="#74bf6d" stroke-width="0.9" />
<circle cx="245.70" cy="624.38" r="2.55" fill="#a5d79d" stroke="#74bf6d" stroke-width="0.9" />
<circle cx="245.70" cy="626.93" r="2.55" fill="#a5d79d" stroke="#74bf6d" stroke-width="0.9" />
<circle cx="245.70" cy="629.49" r="2.55" fill="#a5d79d" stroke="#74bf6d" stroke-width="0.9" />
<circle cx="245.70" cy="638.21" r="2.55" fill="#a5d79d" stroke="#74bf6d" stroke-width="0.9" />
<circle cx="245.70" cy="647.27" r="2.55" fill="#a5d79d" stroke="#74bf6d" stroke-width="0.9" />
<circle cx="276.90" cy="602.65" r="2.55" fill="#fde08a" stroke="#f8c84c" stroke-width="0.9" />
<circle cx="276.90" cy="614.39" r="2.55" fill="#fde08a" stroke="#f8c84c" stroke-width="0.9" />
<circle cx="276.90" cy="617.10" r="2.55" fill="#fde08a" stroke="#f8c84c" stroke-width="0.9" />
<circle cx="276.90" cy="619.81" r="2.55" fill="#fde08a" stroke="#f8c84c" stroke-width="0.9" />
<circle cx="276.90" cy="622.52" r="2.55" fill="#fde08a" stroke="#f8c84c" stroke-width="0.9" />
<circle cx="276.90" cy="625.23" r="2.55" fill="#fde08a" stroke="#f8c84c" stroke-width="0.9" />
<circle cx="276.90" cy="627.94" r="2.55" fill="#fde08a" stroke="#f8c84c" stroke-width="0.9" />
<circle cx="276.90" cy="630.65" r="2.55" fill="#fde08a" stroke="#f8c84c" stroke-width="0.9" />
<circle cx="276.90" cy="633.36" r="2.55" fill="#fde08a" stroke="#f8c84c" stroke-width="0.9" />
<circle cx="276.90" cy="636.07" r="2.55" fill="#fde08a" stroke="#f8c84c" stroke-width="0.9" />
<circle cx="276.90" cy="638.78" r="2.55" fill="#fde08a" stroke="#f8c84c" stroke-width="0.9" />
<circle cx="276.90" cy="641.49" r="2.55" fill="#fde08a" stroke="#f8c84c" stroke-width="0.9" />
<circle cx="276.90" cy="644.20" r="2.55" fill="#fde08a" stroke="#f8c84c" stroke-width="0.9" />
<circle cx="276.90" cy="646.91" r="2.55" fill="#fde08a" stroke="#f8c84c" stroke-width="0.9" />
<circle cx="276.90" cy="649.62" r="2.55" fill="#fde08a" stroke="#f8c84c" stroke-width="0.9" />
<circle cx="276.90" cy="652.33" r="2.55" fill="#fde08a" stroke="#f8c84c" stroke-width="0.9" />
<circle cx="276.90" cy="655.04" r="2.55" fill="#fde08a" stroke="#f8c84c" stroke-width="0.9" />
<circle cx="276.90" cy="657.75" r="2.55" fill="#fde08a" stroke="#f8c84c" stroke-width="0.9" />
<circle cx="276.90" cy="660.46" r="2.55" fill="#fde08a" stroke="#f8c84c" stroke-width="0.9" />
<circle cx="276.90" cy="663.17" r="2.55" fill="#fde08a" stroke="#f8c84c" stroke-width="0.9" />
<circle cx="276.90" cy="665.88" r="2.55" fill="#fde08a" stroke="#f8c84c" stroke-width="0.9" />
<circle cx="276.90" cy="668.59" r="2.55" fill="#fde08a" stroke="#f8c84c" stroke-width="0.9" />
<circle cx="276.90" cy="671.30" r="2.55" fill="#fde08a" stroke="#f8c84c" stroke-width="0.9" />
<circle cx="276.90" cy="674.01" r="2.55" fill="#fde08a" stroke="#f8c84c" stroke-width="0.9" />
<circle cx="276.90" cy="676.72" r="2.55" fill="#fde08a" stroke="#f8c84c" stroke-width="0.9" />
<circle cx="276.90" cy="679.43" r="2.55" fill="#fde08a" stroke="#f8c84c" stroke-width="0.9" />
<circle cx="276.90" cy="682.14" r="2.55" fill="#fde08a" stroke="#f8c84c" stroke-width="0.9" />
<circle cx="276.90" cy="684.85" r="2.55" fill="#fde08a" stroke="#f8c84c" stroke-width="0.9" />
<line x1="227.70" y1="484.70" x2="294.60" y2="484.70" stroke="#222" stroke-width="1.3" />
<line x1="227.70" y1="484.10" x2="227.70" y2="704.00" stroke="#222" stroke-width="1.3" />
<line x1="227.70" y1="703.40" x2="294.60" y2="703.40" stroke="#222" stroke-width="1.3" />
<line x1="294.60" y1="484.10" x2="294.60" y2="704.00" stroke="#222" stroke-width="1.3" />
<line x1="294.60" y1="703.30" x2="297.60" y2="703.30" stroke="#222" stroke-width="0.9" />
<text x="0.00" y="0.00" dy="0.355em" font-size="8.55" text-anchor="start" fill="#1c1c1c" font-weight="normal" transform="translate(300.00,702.90) scale(0.92,1)" >&#8722;20</text>
<line x1="294.60" y1="686.53" x2="297.60" y2="686.53" stroke="#222" stroke-width="0.9" />
<text x="0.00" y="0.00" dy="0.355em" font-size="8.55" text-anchor="start" fill="#1c1c1c" font-weight="normal" transform="translate(300.00,686.13) scale(0.92,1)" >&#8722;15</text>
<line x1="294.60" y1="669.75" x2="297.60" y2="669.75" stroke="#222" stroke-width="0.9" />
<text x="0.00" y="0.00" dy="0.355em" font-size="8.55" text-anchor="start" fill="#1c1c1c" font-weight="normal" transform="translate(300.00,669.35) scale(0.92,1)" >&#8722;10</text>
<line x1="294.60" y1="652.98" x2="297.60" y2="652.98" stroke="#222" stroke-width="0.9" />
<text x="0.00" y="0.00" dy="0.355em" font-size="8.55" text-anchor="start" fill="#1c1c1c" font-weight="normal" transform="translate(300.00,652.58) scale(0.92,1)" >&#8722;5</text>
<line x1="294.60" y1="636.20" x2="297.60" y2="636.20" stroke="#222" stroke-width="0.9" />
<text x="0.00" y="0.00" dy="0.355em" font-size="8.55" text-anchor="start" fill="#1c1c1c" font-weight="normal" transform="translate(300.00,635.80) scale(0.92,1)" >0</text>
<line x1="294.60" y1="619.43" x2="297.60" y2="619.43" stroke="#222" stroke-width="0.9" />
<text x="0.00" y="0.00" dy="0.355em" font-size="8.55" text-anchor="start" fill="#1c1c1c" font-weight="normal" transform="translate(300.00,619.03) scale(0.92,1)" >5</text>
<line x1="294.60" y1="602.65" x2="297.60" y2="602.65" stroke="#222" stroke-width="0.9" />
<text x="0.00" y="0.00" dy="0.355em" font-size="8.55" text-anchor="start" fill="#1c1c1c" font-weight="normal" transform="translate(300.00,602.25) scale(0.92,1)" >10</text>
<line x1="294.60" y1="585.88" x2="297.60" y2="585.88" stroke="#222" stroke-width="0.9" />
<text x="0.00" y="0.00" dy="0.355em" font-size="8.55" text-anchor="start" fill="#1c1c1c" font-weight="normal" transform="translate(300.00,585.48) scale(0.92,1)" >15</text>
<line x1="294.60" y1="569.10" x2="297.60" y2="569.10" stroke="#222" stroke-width="0.9" />
<text x="0.00" y="0.00" dy="0.355em" font-size="8.55" text-anchor="start" fill="#1c1c1c" font-weight="normal" transform="translate(300.00,568.70) scale(0.92,1)" >20</text>
<line x1="294.60" y1="552.33" x2="297.60" y2="552.33" stroke="#222" stroke-width="0.9" />
<text x="0.00" y="0.00" dy="0.355em" font-size="8.55" text-anchor="start" fill="#1c1c1c" font-weight="normal" transform="translate(300.00,551.93) scale(0.92,1)" >25</text>
<line x1="294.60" y1="535.55" x2="297.60" y2="535.55" stroke="#222" stroke-width="0.9" />
<text x="0.00" y="0.00" dy="0.355em" font-size="8.55" text-anchor="start" fill="#1c1c1c" font-weight="normal" transform="translate(300.00,535.15) scale(0.92,1)" >30</text>
<line x1="294.60" y1="518.78" x2="297.60" y2="518.78" stroke="#222" stroke-width="0.9" />
<text x="0.00" y="0.00" dy="0.355em" font-size="8.55" text-anchor="start" fill="#1c1c1c" font-weight="normal" transform="translate(300.00,518.38) scale(0.92,1)" >35</text>
<line x1="294.60" y1="502.00" x2="297.60" y2="502.00" stroke="#222" stroke-width="0.9" />
<text x="0.00" y="0.00" dy="0.355em" font-size="8.55" text-anchor="start" fill="#1c1c1c" font-weight="normal" transform="translate(300.00,501.60) scale(0.92,1)" >40</text>
<line x1="294.60" y1="485.23" x2="297.60" y2="485.23" stroke="#222" stroke-width="0.9" />
<text x="0.00" y="0.00" dy="0.355em" font-size="8.55" text-anchor="start" fill="#1c1c1c" font-weight="normal" transform="translate(300.00,484.83) scale(0.92,1)" >45</text>
<line x1="245.50" y1="496.50" x2="276.90" y2="496.50" stroke="#222" stroke-width="0.9" />
<text x="0.00" y="0.00" dy="0.355em" font-size="9.49" text-anchor="middle" fill="#1c1c1c" font-weight="normal" transform="translate(261.20,493.90) scale(0.92,1)" >****</text>
<text x="0.00" y="0.00" dy="0.355em" font-size="9.5" text-anchor="middle" fill="#1c1c1c" font-weight="normal" transform="translate(218.90,594.00) rotate(-90) scale(0.7,1)" >BCP-ALL</text>
<text x="0.00" y="0.00" dy="0.355em" font-size="9.2" text-anchor="middle" fill="#1c1c1c" font-weight="normal" transform="translate(321.20,594.00) rotate(90) scale(0.81,1)" >Mean ZIP scores</text>
<text x="0.00" y="0.00" dy="0.355em" font-size="8.97" text-anchor="start" fill="#1c1c1c" font-weight="normal" transform="translate(330.40,489.30) scale(0.92,1)" >SM +</text>
<circle cx="332.20" cy="498.10" r="1.6" fill="#8ccf84" stroke="#5fb760" stroke-width="0.8" />
<text x="0.00" y="0.00" dy="0.355em" font-size="8.97" text-anchor="start" fill="#1c1c1c" font-weight="normal" transform="translate(337.80,498.30) scale(0.92,1)" >Mo</text>
<circle cx="332.20" cy="507.00" r="1.6" fill="#fde08a" stroke="#f2b632" stroke-width="0.8" />
<text x="0.00" y="0.00" dy="0.355em" font-size="8.97" text-anchor="start" fill="#1c1c1c" font-weight="normal" transform="translate(337.80,506.90) scale(0.92,1)" >Mo + LD4172</text>
<rect x="0.50" y="0.50" width="519.00" height="723.00" fill="none" stroke="#5a5a5a" stroke-width="1" />
</svg>
</body></html>
